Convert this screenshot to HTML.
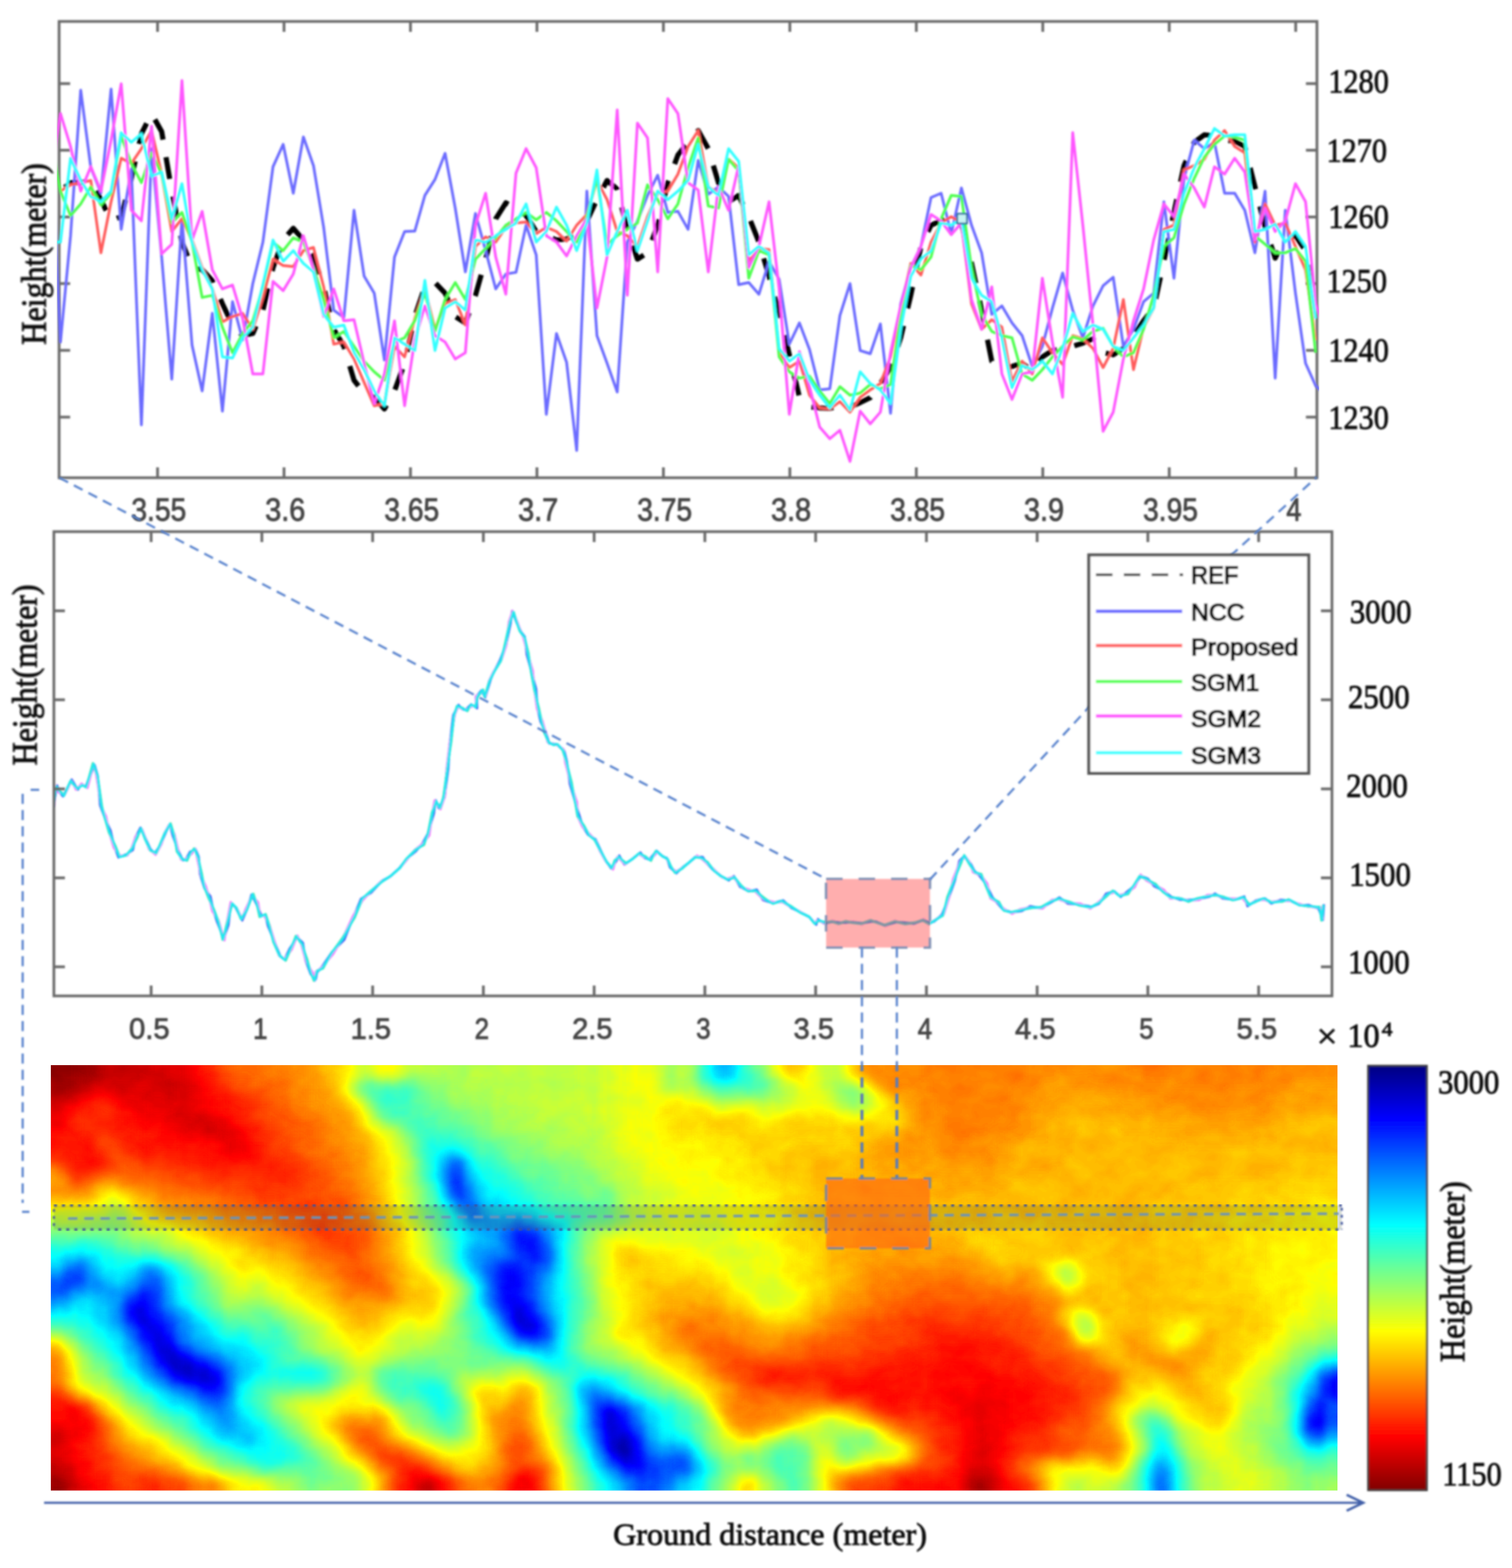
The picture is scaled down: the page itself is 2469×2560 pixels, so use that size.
<!DOCTYPE html>
<html lang="en"><head><meta charset="utf-8"><title>Height profile comparison</title>
<style>html,body{margin:0;padding:0;background:#fff;}body{width:2469px;height:2560px;overflow:hidden;}svg{display:block;}</style>
</head><body>
<svg width="2469" height="2560" viewBox="0 0 2469 2560">
<defs>
<filter id="soft" x="-5%" y="-5%" width="110%" height="110%"><feGaussianBlur stdDeviation="1.5"/></filter>
<filter id="soft2" x="-5%" y="-5%" width="110%" height="110%"><feGaussianBlur stdDeviation="1.35"/></filter>
<filter id="jet" filterUnits="userSpaceOnUse" x="0" y="1650" width="2469" height="880" color-interpolation-filters="sRGB"><feGaussianBlur stdDeviation="6" result="h"/><feTurbulence type="fractalNoise" baseFrequency="0.022 0.028" numOctaves="3" seed="11" result="n"/><feColorMatrix in="n" type="matrix" values="1 0 0 0 0  1 0 0 0 0  1 0 0 0 0  0 0 0 0 1" result="ng"/><feComposite in="h" in2="ng" operator="arithmetic" k1="0" k2="1" k3="0.044" k4="-0.022"/><feComponentTransfer><feFuncR type="table" tableValues="0.5 1 1 1 0.5 0 0 0 0"/><feFuncG type="table" tableValues="0 0 0.5 1 1 1 0.5 0 0"/><feFuncB type="table" tableValues="0 0 0 0 0.5 1 1 1 0.5"/><feFuncA type="linear" slope="100" intercept="0"/></feComponentTransfer></filter>
<linearGradient id="cbar" x1="0" y1="0" x2="0" y2="1">
<stop offset="0.0000" stop-color="#000080"/>
<stop offset="0.1250" stop-color="#0000ff"/>
<stop offset="0.2500" stop-color="#0080ff"/>
<stop offset="0.3750" stop-color="#00ffff"/>
<stop offset="0.5000" stop-color="#80ff80"/>
<stop offset="0.6250" stop-color="#ffff00"/>
<stop offset="0.7500" stop-color="#ff8000"/>
<stop offset="0.8750" stop-color="#ff0000"/>
<stop offset="1.0000" stop-color="#800000"/>
</linearGradient>
<clipPath id="ctop"><rect x="93.3" y="35.0" width="2060.4" height="745.0"/></clipPath>
<clipPath id="cmid"><rect x="88.0" y="868.0" width="2087.0" height="758.0"/></clipPath>
<clipPath id="cheat"><rect x="83.0" y="1739.0" width="2101.0" height="694.5"/></clipPath>
</defs>
<rect width="2469" height="2560" fill="#fff"/>
<g id="heatmap" clip-path="url(#cheat)">
<g filter="url(#jet)">
<g transform="translate(45.48,1708.00) scale(12.5060,12.4018)" fill="none" stroke-width="1.12">
<path stroke="#030303" d="M0 0h6M0 1h6M0 2h6M0 3h6M0 4h6"/>
<path stroke="#060606" d="M6 0h2M6 1h2M6 2h2M6 3h2M6 4h1M0 5h6M0 58h4M0 59h4M0 60h4M0 61h4"/>
<path stroke="#090909" d="M8 0h1M8 1h1M8 2h1M8 3h1M7 4h1M6 5h1M0 6h5M0 57h4M4 58h1M124 58h1M4 59h1M124 59h1M4 60h1M124 60h1M4 61h1M124 61h1"/>
<path stroke="#0c0c0c" d="M8 4h1M7 5h1M5 6h1M4 57h1M124 57h1M123 58h1M123 59h1M123 60h1M123 61h1"/>
<path stroke="#0f0f0f" d="M9 0h1M9 1h1M9 2h1M9 3h1M9 4h1M6 6h1M0 7h4M0 56h4M123 57h1M125 58h1M125 59h1M125 60h1M125 61h1"/>
<path stroke="#121212" d="M10 0h6M10 1h6M10 2h6M10 3h6M10 4h5M8 5h1M4 7h1M0 55h4M4 56h1M5 57h1M125 57h1M5 58h1M52 58h1M5 59h1M52 59h1M5 60h1M52 60h1M5 61h1M52 61h1"/>
<path stroke="#151515" d="M16 0h2M16 1h2M16 2h2M16 3h2M15 4h3M9 5h10M7 6h1M16 6h3M5 7h1M18 7h1M0 8h4M0 52h4M0 53h4M0 54h4M4 55h1M5 56h1M123 56h2M51 58h1M51 59h1M51 60h1M51 61h1"/>
<path stroke="#181818" d="M18 0h2M18 1h2M18 2h2M18 3h2M18 4h2M19 5h1M12 6h4M19 6h2M15 7h3M19 7h3M4 8h1M16 8h6M19 9h4M22 10h2M23 11h2M25 12h1M26 13h1M0 51h4M4 52h1M4 53h1M4 54h1M5 55h1M125 56h1M6 57h1M51 57h1M122 57h1M6 58h1M122 58h1M126 58h1M6 59h1M122 59h1M126 59h1M6 60h1M122 60h1M126 60h1M6 61h1M122 61h1M126 61h1"/>
<path stroke="#1b1b1b" d="M20 0h1M20 1h1M20 2h1M20 3h1M20 4h1M20 5h1M8 6h4M21 6h1M6 7h1M12 7h3M22 7h1M14 8h2M22 8h1M0 9h4M16 9h3M23 9h1M18 10h4M24 10h1M21 11h2M25 11h1M23 12h2M26 12h1M25 13h1M27 13h1M26 14h2M124 49h1M124 50h1M4 51h1M124 51h1M124 52h1M5 53h1M123 53h2M5 54h1M123 54h2M123 55h2M6 56h1M122 56h1M50 57h1M52 57h1M126 57h1M7 58h1M50 58h1M53 58h1M7 59h1M50 59h1M53 59h1M7 60h1M50 60h1M53 60h1M7 61h1M50 61h1M53 61h1"/>
<path stroke="#1e1e1e" d="M21 0h1M21 1h1M21 2h1M21 3h1M21 4h1M21 5h1M22 6h1M11 7h1M23 7h1M5 8h1M12 8h2M23 8h1M4 9h1M14 9h2M24 9h1M0 10h5M16 10h2M25 10h1M18 11h3M26 11h1M20 12h3M27 12h1M23 13h2M28 13h1M25 14h1M28 14h1M121 45h5M121 46h7M121 47h7M5 48h1M122 48h6M6 49h1M122 49h2M125 49h3M0 50h5M122 50h2M125 50h2M122 51h2M125 51h2M5 52h1M122 52h2M125 52h2M122 53h1M125 53h1M122 54h1M125 54h1M6 55h1M122 55h1M125 55h1M7 56h1M126 56h1M7 57h1M64 58h2M127 58h1M64 59h2M127 59h1M64 60h2M127 60h1M64 61h2M127 61h1"/>
<path stroke="#212121" d="M22 4h1M22 5h1M23 6h1M7 7h1M10 7h1M24 7h1M6 8h1M11 8h1M24 8h1M5 9h1M13 9h1M25 9h1M14 10h2M26 10h1M0 11h5M15 11h3M27 11h1M17 12h3M28 12h1M20 13h3M24 14h1M26 15h3M120 42h4M118 43h8M118 44h11M106 45h4M118 45h3M126 45h4M111 46h2M119 46h2M128 46h3M112 47h1M119 47h2M128 47h3M0 48h5M6 48h1M120 48h2M128 48h3M0 49h6M7 49h1M121 49h1M128 49h2M5 50h3M121 50h1M127 50h2M5 51h2M127 51h1M6 52h1M127 52h1M6 53h1M126 53h2M6 54h1M126 54h1M7 55h1M126 55h1M50 56h1M8 57h1M53 57h1M64 57h2M121 57h1M127 57h1M8 58h1M114 58h2M119 58h3M128 58h1M8 59h1M114 59h2M119 59h3M128 59h1M8 60h1M114 60h2M119 60h3M128 60h1M8 61h1M114 61h2M119 61h3M128 61h1"/>
<path stroke="#242424" d="M22 0h1M22 1h1M22 2h1M22 3h1M23 5h1M24 6h1M8 7h2M25 7h1M25 8h1M12 9h1M26 9h1M5 10h1M13 10h1M27 10h1M5 11h1M14 11h1M28 11h1M0 12h7M15 12h2M0 13h8M16 13h4M29 13h1M5 14h3M20 14h4M29 14h1M6 15h3M24 15h2M29 15h1M119 40h5M118 41h8M116 42h4M124 42h4M114 43h4M126 43h4M105 44h13M129 44h2M105 45h1M110 45h8M130 45h2M110 46h1M113 46h6M131 46h2M0 47h5M111 47h1M113 47h2M117 47h2M131 47h2M119 48h1M131 48h2M120 49h1M130 49h2M8 50h1M120 50h1M129 50h2M7 51h1M121 51h1M128 51h2M7 52h1M121 52h1M128 52h1M121 53h1M128 53h1M7 54h1M121 54h1M127 54h1M121 55h1M8 56h1M49 56h1M51 56h1M121 56h1M127 56h1M9 57h1M49 57h1M114 57h2M119 57h2M128 57h1M9 58h1M49 58h1M54 58h1M63 58h1M113 58h1M116 58h3M129 58h1M9 59h1M49 59h1M54 59h1M63 59h1M113 59h1M116 59h3M129 59h1M9 60h1M49 60h1M54 60h1M63 60h1M113 60h1M116 60h3M129 60h1M9 61h1M49 61h1M54 61h1M63 61h1M113 61h1M116 61h3M129 61h1"/>
<path stroke="#272727" d="M23 0h1M23 1h1M23 2h1M23 3h1M23 4h1M24 5h1M25 6h1M26 7h1M7 8h1M10 8h1M26 8h2M6 9h1M11 9h1M27 9h1M6 10h1M12 10h1M28 10h1M6 11h1M12 11h2M29 11h1M7 12h1M13 12h2M29 12h1M8 13h1M14 13h2M30 13h1M0 14h5M8 14h1M15 14h5M30 14h1M5 15h1M9 15h1M20 15h4M30 15h2M6 16h3M24 16h8M119 38h4M118 39h7M116 40h3M124 40h3M115 41h3M126 41h3M112 42h4M128 42h3M97 43h1M103 43h11M130 43h2M96 44h5M104 44h1M131 44h2M132 45h2M106 46h4M133 46h1M110 47h1M115 47h2M133 47h2M7 48h1M112 48h3M117 48h2M133 48h1M8 49h1M119 49h1M132 49h1M119 50h1M131 50h1M8 51h1M120 51h1M130 51h1M120 52h1M129 52h1M7 53h1M120 53h1M129 53h1M128 54h1M8 55h1M127 55h1M9 56h1M120 56h1M10 57h1M63 57h1M116 57h3M10 58h1M16 58h1M66 58h1M10 59h1M16 59h1M66 59h1M10 60h1M16 60h1M66 60h1M10 61h1M16 61h1M66 61h1"/>
<path stroke="#2a2a2a" d="M24 4h1M26 6h1M27 7h1M8 8h2M28 8h1M7 9h4M28 9h1M7 10h5M29 10h1M7 11h5M30 11h1M8 12h1M11 12h2M30 12h1M12 13h2M31 13h1M9 14h1M13 14h2M31 14h1M4 15h1M15 15h5M32 15h1M5 16h1M21 16h3M32 16h1M25 17h9M31 18h3M118 37h6M117 38h2M123 38h3M115 39h3M125 39h3M113 40h3M127 40h3M111 41h4M129 41h2M108 42h4M131 42h1M96 43h1M98 43h5M132 43h1M95 44h1M101 44h3M133 44h1M104 45h1M134 45h1M0 46h4M105 46h1M134 46h2M5 47h1M135 47h1M111 48h1M115 48h2M134 48h2M117 49h2M133 49h2M118 50h1M132 50h1M119 51h1M131 51h1M8 52h1M119 52h1M130 52h1M8 53h1M119 53h1M8 54h1M120 54h1M9 55h1M49 55h2M120 55h1M128 55h1M10 56h1M48 56h1M52 56h1M64 56h2M116 56h2M119 56h1M128 56h1M48 57h1M54 57h1M66 57h1M113 57h1M129 57h1M11 58h1M15 58h1M48 58h1M130 58h1M11 59h1M15 59h1M48 59h1M130 59h1M11 60h1M15 60h1M48 60h1M130 60h1M11 61h1M15 61h1M48 61h1M130 61h1"/>
<path stroke="#2e2e2e" d="M24 0h1M24 1h1M24 2h1M24 3h1M25 5h1M27 6h1M28 7h1M29 8h1M29 9h1M30 10h1M31 11h1M9 12h2M31 12h1M9 13h3M32 13h1M10 14h3M32 14h2M0 15h4M10 15h1M14 15h1M33 15h1M9 16h1M15 16h6M33 16h2M6 17h2M22 17h3M34 17h1M25 18h6M34 18h2M30 19h6M33 20h3M35 21h2M37 23h2M38 24h1M39 25h2M117 36h8M116 37h2M124 37h3M114 38h3M126 38h3M111 39h4M128 39h2M109 40h4M130 40h1M107 41h4M131 41h1M101 42h7M132 42h2M95 43h1M133 43h2M134 44h1M96 45h6M103 45h1M135 45h1M136 46h1M136 47h1M136 48h1M114 49h3M135 49h1M133 50h1M118 51h1M132 51h1M118 52h1M131 52h2M118 53h1M130 53h2M9 54h1M119 54h1M129 54h1M10 55h1M48 55h1M119 55h1M115 56h1M118 56h1M11 57h1M15 57h2M12 58h1M14 58h1M17 58h1M55 58h1M62 58h1M112 58h1M12 59h1M14 59h1M17 59h1M55 59h1M62 59h1M112 59h1M12 60h1M14 60h1M17 60h1M55 60h1M62 60h1M112 60h1M12 61h1M14 61h1M17 61h1M55 61h1M62 61h1M112 61h1"/>
<path stroke="#313131" d="M25 4h1M26 5h1M28 6h1M29 7h1M30 8h1M30 9h1M31 10h1M32 11h1M32 12h2M33 13h1M34 14h1M11 15h3M34 15h1M10 16h1M14 16h1M35 16h1M8 17h1M19 17h3M35 17h2M23 18h2M36 18h1M26 19h4M36 19h2M30 20h3M36 20h2M33 21h2M37 21h2M34 22h5M36 23h1M39 23h1M37 24h1M39 24h2M38 25h1M41 25h1M39 26h3M117 35h8M115 36h2M125 36h3M113 37h3M127 37h2M110 38h4M129 38h2M108 39h3M130 39h2M106 40h3M131 40h2M104 41h3M132 41h2M95 42h6M134 42h1M94 43h1M135 43h1M94 44h1M135 44h2M94 45h2M102 45h1M136 45h1M4 46h1M104 46h1M137 46h1M6 47h1M109 47h1M137 47h1M137 48h1M113 49h1M136 49h1M9 50h1M117 50h1M134 50h2M9 51h1M117 51h1M133 51h1M9 52h1M133 52h3M9 53h1M132 53h4M10 54h1M46 54h3M118 54h1M47 55h1M64 55h1M117 55h2M11 56h1M63 56h1M66 56h1M129 56h1M12 57h3M62 57h1M112 57h1M130 57h1M13 58h1M18 58h2M108 58h4M13 59h1M18 59h2M108 59h4M13 60h1M18 60h2M108 60h4M13 61h1M18 61h2M108 61h4"/>
<path stroke="#343434" d="M25 0h1M25 1h1M25 2h1M25 3h1M26 4h1M27 5h2M29 6h1M30 7h1M31 8h1M31 9h2M32 10h1M33 11h1M34 12h1M34 13h1M35 14h1M35 15h2M4 16h1M11 16h1M13 16h1M36 16h1M5 17h1M15 17h4M37 17h1M6 18h1M20 18h3M37 18h2M24 19h2M38 19h1M27 20h3M38 20h2M30 21h3M39 21h2M33 22h1M39 22h2M35 23h1M40 23h2M36 24h1M41 24h2M37 25h1M42 25h1M38 26h1M42 26h1M40 27h3M42 28h1M116 34h9M114 35h3M125 35h3M112 36h3M128 36h2M110 37h3M129 37h2M108 38h2M131 38h1M106 39h2M132 39h1M104 40h2M133 40h1M101 41h3M134 41h1M92 42h3M135 42h1M92 43h2M136 43h2M93 44h1M137 44h2M0 45h4M137 45h2M138 46h1M108 47h1M138 47h1M8 48h1M110 48h1M138 48h1M9 49h1M112 49h1M137 49h1M115 50h2M136 50h2M134 51h4M63 52h2M117 52h1M136 52h1M46 53h1M63 53h2M136 53h1M49 54h1M63 54h2M117 54h1M130 54h1M11 55h1M51 55h1M63 55h1M65 55h1M129 55h1M12 56h1M53 56h1M114 56h1M17 57h2M55 57h1M111 57h1M20 58h1M107 58h1M20 59h1M107 59h1M20 60h1M107 60h1M20 61h1M107 61h1"/>
<path stroke="#373737" d="M26 0h1M26 1h1M26 2h1M26 3h1M27 4h2M29 5h1M30 6h1M31 7h1M32 8h1M33 9h1M33 10h2M34 11h1M35 12h1M35 13h2M36 14h1M37 15h1M12 16h1M37 16h2M9 17h1M13 17h2M38 17h1M7 18h1M17 18h3M39 18h1M22 19h2M39 19h1M25 20h2M40 20h1M28 21h2M41 21h1M31 22h2M41 22h1M33 23h2M42 23h1M35 24h1M43 24h1M36 25h1M43 25h1M43 26h1M39 27h1M43 27h1M40 28h2M43 28h1M42 29h2M43 30h2M44 31h1M116 33h8M113 34h3M125 34h4M112 35h2M128 35h3M110 36h2M130 36h2M108 37h2M131 37h2M106 38h2M132 38h2M104 39h2M133 39h1M89 40h4M102 40h2M134 40h1M90 41h11M135 41h1M91 42h1M136 42h3M91 43h1M138 43h2M92 44h1M139 44h2M93 45h1M139 45h2M94 46h10M139 46h1M7 47h1M105 47h3M139 47h1M138 49h1M114 50h1M138 50h1M43 51h2M63 51h2M116 51h1M43 52h2M137 52h1M10 53h1M45 53h1M47 53h1M117 53h1M11 54h1M131 54h1M12 55h1M46 55h1M116 55h1M13 56h2M47 56h1M62 56h1M113 56h1M19 57h1M47 57h1M67 57h1M109 57h2M47 58h1M56 58h1M61 58h1M67 58h1M131 58h1M47 59h1M56 59h1M61 59h1M67 59h1M131 59h1M47 60h1M56 60h1M61 60h1M67 60h1M131 60h1M47 61h1M56 61h1M61 61h1M67 61h1M131 61h1"/>
<path stroke="#3a3a3a" d="M27 0h3M27 1h3M27 2h3M27 3h3M29 4h2M30 5h2M31 6h2M32 7h2M33 8h1M34 9h1M35 10h1M35 11h2M36 12h1M37 13h1M37 14h1M38 15h1M0 16h4M39 16h1M10 17h1M12 17h1M39 17h1M8 18h1M15 18h2M40 18h1M17 19h5M40 19h1M23 20h2M41 20h1M26 21h2M29 22h2M42 22h1M31 23h2M43 23h1M33 24h2M35 25h1M44 25h1M37 26h1M44 26h1M38 27h1M44 27h1M39 28h1M44 28h1M41 29h1M44 29h1M42 30h1M43 31h1M45 31h1M44 32h2M115 32h8M113 33h3M124 33h4M111 34h2M129 34h2M110 35h2M131 35h1M108 36h2M132 36h1M106 37h2M133 37h1M105 38h1M134 38h1M88 39h4M102 39h2M134 39h1M88 40h1M93 40h1M100 40h2M135 40h1M89 41h1M136 41h2M90 42h1M140 43h1M141 44h1M93 46h1M140 46h1M104 47h1M139 48h1M111 49h1M10 51h1M42 51h1M138 51h1M10 52h1M45 52h1M65 52h1M138 52h1M11 53h1M44 53h1M62 53h1M65 53h1M137 53h1M45 54h1M65 54h1M132 54h1M13 55h1M66 55h1M130 55h1M15 56h2M54 56h1M67 56h1M112 56h1M130 56h1M61 57h1M108 57h1"/>
<path stroke="#3d3d3d" d="M30 0h2M30 1h2M30 2h2M30 3h2M31 4h2M32 5h2M33 6h1M34 7h1M34 8h2M35 9h1M36 10h1M37 11h1M37 12h1M38 13h1M38 14h2M39 15h1M40 16h1M11 17h1M40 17h1M5 18h1M14 18h1M41 18h1M41 19h1M21 20h2M42 20h1M24 21h2M42 21h1M27 22h2M43 22h1M30 23h1M32 24h1M44 24h1M34 25h1M35 26h2M37 27h1M38 28h1M40 29h1M41 30h1M45 30h1M42 31h1M46 31h1M114 31h8M43 32h1M46 32h1M113 32h2M123 32h4M111 33h2M128 33h3M110 34h1M131 34h1M108 35h2M132 35h1M107 36h1M133 36h1M86 37h1M105 37h1M86 38h2M89 38h2M103 38h2M87 39h1M92 39h1M101 39h1M94 40h6M138 41h1M89 42h1M139 42h1M90 43h1M141 43h1M0 44h4M91 44h1M4 45h1M92 45h1M141 45h1M5 46h1M94 47h3M101 47h3M140 47h1M109 48h1M139 49h1M10 50h1M42 50h3M63 50h1M113 50h1M45 51h1M62 51h1M115 51h1M62 52h1M116 52h1M139 52h1M48 53h1M138 53h1M12 54h1M50 54h1M62 54h1M133 54h3M14 55h1M52 55h1M62 55h1M17 56h1M111 56h1M20 57h1M56 57h1M60 57h1M107 57h1M131 57h1M21 58h1M57 58h1M60 58h1M106 58h1M21 59h1M57 59h1M60 59h1M106 59h1M21 60h1M57 60h1M60 60h1M106 60h1M21 61h1M57 61h1M60 61h1M106 61h1"/>
<path stroke="#404040" d="M32 0h2M110 0h1M117 0h13M144 0h19M32 1h2M110 1h1M117 1h13M144 1h19M32 2h2M110 2h1M117 2h13M144 2h19M32 3h2M110 3h1M117 3h13M144 3h19M33 4h2M117 4h13M146 4h15M34 5h1M118 5h11M150 5h10M34 6h2M118 6h10M155 6h1M35 7h1M119 7h9M36 8h1M119 8h8M36 9h2M120 9h7M37 10h1M120 10h6M38 11h1M120 11h5M38 12h1M121 12h2M39 13h1M40 14h1M40 15h1M41 16h1M4 17h1M41 17h1M13 18h1M42 18h1M6 19h2M16 19h1M42 19h1M17 20h4M22 21h2M43 21h1M25 22h2M28 23h2M44 23h1M30 24h2M33 25h1M34 26h1M45 26h1M36 27h1M45 27h1M37 28h1M45 28h1M38 29h2M45 29h1M40 30h1M46 30h1M114 30h7M41 31h1M113 31h1M122 31h3M42 32h1M47 32h1M112 32h1M127 32h3M44 33h3M110 33h1M131 33h1M108 34h2M132 34h1M107 35h1M133 35h1M105 36h2M85 37h1M87 37h1M104 37h1M134 37h1M85 38h1M88 38h1M91 38h2M102 38h1M86 39h1M93 39h2M99 39h2M135 39h1M87 40h1M136 40h1M88 41h1M0 42h4M140 42h1M0 43h4M142 44h1M92 46h1M92 47h2M97 47h4M92 48h6M140 48h1M63 49h1M92 49h6M45 50h1M62 50h1M64 50h1M139 50h1M65 51h1M139 51h1M11 52h1M42 52h1M46 52h1M140 52h2M12 53h1M43 53h1M139 53h3M13 54h1M66 54h1M116 54h1M136 54h1M67 55h1M115 55h1M18 56h1M46 56h1M61 56h1M22 58h2M58 58h2M22 59h2M58 59h2M22 60h2M58 60h2M22 61h2M58 61h2"/>
<path stroke="#434343" d="M34 0h2M109 0h1M111 0h6M130 0h14M163 0h11M34 1h2M109 1h1M111 1h6M130 1h14M163 1h11M34 2h2M109 2h1M111 2h6M130 2h14M163 2h11M34 3h2M109 3h1M111 3h6M130 3h14M163 3h11M35 4h1M111 4h6M130 4h4M139 4h7M161 4h13M35 5h1M112 5h2M115 5h3M129 5h3M142 5h8M160 5h5M36 6h1M116 6h2M128 6h3M145 6h10M156 6h7M36 7h1M117 7h2M128 7h3M149 7h12M37 8h1M117 8h2M127 8h3M152 8h7M38 9h1M117 9h3M127 9h2M38 10h1M117 10h3M126 10h3M39 11h1M117 11h3M125 11h3M39 12h2M117 12h4M123 12h4M40 13h1M118 13h8M41 14h1M119 14h6M41 15h1M42 16h1M42 17h1M9 18h1M12 18h1M5 19h1M15 19h1M43 19h1M43 20h1M21 21h1M24 22h1M44 22h1M26 23h2M29 24h1M45 24h1M31 25h2M45 25h1M33 26h1M35 27h1M36 28h1M37 29h1M46 29h1M112 29h9M39 30h1M111 30h3M121 30h3M40 31h1M47 31h1M111 31h2M125 31h5M41 32h1M110 32h2M130 32h2M42 33h2M47 33h1M108 33h2M132 33h1M107 34h1M133 34h1M106 35h1M85 36h5M104 36h1M84 37h1M88 37h4M103 37h1M84 38h1M93 38h1M101 38h1M135 38h1M85 39h1M95 39h4M86 40h1M137 40h1M0 41h4M139 41h1M89 43h1M142 43h1M4 44h1M90 44h1M91 45h1M141 46h1M8 47h1M9 48h1M63 48h2M98 48h2M108 48h1M10 49h1M62 49h1M64 49h1M98 49h1M110 49h1M140 49h1M41 50h1M61 50h1M93 50h2M112 50h1M140 50h1M11 51h1M61 51h1M114 51h1M140 51h2M49 53h1M116 53h1M44 54h1M51 54h1M141 54h1M15 55h1M45 55h1M53 55h1M131 55h1M55 56h1M110 56h1M131 56h1M21 57h1M57 57h3M106 57h1M24 58h1M24 59h1M24 60h1M24 61h1"/>
<path stroke="#464646" d="M36 0h1M36 1h1M36 2h1M36 3h1M36 4h1M110 4h1M134 4h5M36 5h1M111 5h1M114 5h1M132 5h10M165 5h9M37 6h1M113 6h3M131 6h3M140 6h5M163 6h4M37 7h2M115 7h2M131 7h2M143 7h6M161 7h3M38 8h2M116 8h1M130 8h2M146 8h6M159 8h3M39 9h2M116 9h1M129 9h2M150 9h11M39 10h3M116 10h1M129 10h2M154 10h3M40 11h2M116 11h1M128 11h3M41 12h1M115 12h2M127 12h3M41 13h2M115 13h3M126 13h2M42 14h2M115 14h4M125 14h3M42 15h2M117 15h9M43 16h1M119 16h5M0 17h4M43 17h1M4 18h1M11 18h1M43 18h1M0 19h5M8 19h1M14 19h1M16 20h1M44 20h1M18 21h3M44 21h1M22 22h2M25 23h1M45 23h1M27 24h2M30 25h1M32 26h1M46 26h1M34 27h1M46 27h1M114 27h4M35 28h1M46 28h1M111 28h10M47 29h1M110 29h2M121 29h3M38 30h1M47 30h1M109 30h2M124 30h3M129 30h1M39 31h1M109 31h2M130 31h2M40 32h1M108 32h2M132 32h1M41 33h1M107 33h1M133 33h1M43 34h3M86 34h1M106 34h1M84 35h6M105 35h1M84 36h1M90 36h2M103 36h1M134 36h1M92 37h2M102 37h1M94 38h2M99 38h2M84 39h1M144 39h1M138 40h1M144 40h2M87 41h1M146 41h1M88 42h1M141 42h1M148 42h3M4 43h1M142 45h1M6 46h1M91 46h1M64 47h1M91 47h1M141 47h1M91 48h1M100 48h1M45 49h1M61 49h1M46 50h1M65 50h1M92 50h1M95 50h1M41 51h1M46 51h1M12 52h1M47 52h1M61 52h1M142 52h1M13 53h1M42 53h1M61 53h1M66 53h1M142 53h1M14 54h1M137 54h1M140 54h1M16 55h1M61 55h1M19 56h1M60 56h1M46 57h1M46 58h1M46 59h1M46 60h1M46 61h1"/>
<path stroke="#494949" d="M37 0h1M37 1h1M37 2h1M37 3h1M37 4h1M37 5h1M38 6h1M112 6h1M134 6h6M167 6h7M39 7h1M114 7h1M133 7h3M138 7h5M164 7h10M40 8h1M115 8h1M132 8h2M141 8h5M162 8h4M41 9h1M115 9h1M131 9h3M144 9h6M161 9h3M115 10h1M131 10h2M147 10h7M157 10h5M42 11h1M115 11h1M131 11h2M151 11h9M42 12h1M114 12h1M130 12h3M43 13h1M111 13h4M128 13h1M111 14h4M128 14h1M110 15h7M126 15h3M111 16h2M115 16h4M124 16h4M117 17h9M0 18h4M10 18h1M44 18h1M120 18h3M44 19h1M15 20h1M17 21h1M21 22h1M45 22h1M24 23h1M26 24h1M28 25h2M46 25h1M31 26h1M111 26h8M33 27h1M110 27h4M118 27h3M34 28h1M47 28h1M109 28h2M121 28h2M36 29h1M108 29h2M124 29h1M37 30h1M48 30h1M108 30h1M127 30h2M130 30h2M38 31h1M48 31h1M107 31h2M132 31h1M39 32h1M48 32h1M107 32h1M133 32h1M48 33h1M106 33h1M134 33h1M42 34h1M46 34h2M84 34h2M87 34h2M105 34h1M134 34h1M43 35h2M83 35h1M90 35h1M104 35h1M134 35h1M83 36h1M92 36h1M102 36h1M83 37h1M94 37h1M101 37h1M83 38h1M96 38h3M144 38h1M136 39h1M145 39h1M0 40h4M85 40h1M139 40h1M146 40h1M4 41h1M86 41h1M140 41h1M144 41h2M147 41h6M4 42h1M142 42h1M146 42h2M151 42h1M143 43h1M149 43h2M63 47h1M62 48h1M101 48h2M107 48h1M141 48h1M42 49h3M91 49h1M99 49h1M11 50h1M96 50h1M141 50h1M113 51h1M66 52h1M115 52h1M15 54h1M61 54h1M67 54h1M138 54h2M17 55h1M114 55h1M132 55h1M56 56h1M59 56h1M68 56h1M109 56h1M22 57h2M68 57h1M68 58h1M105 58h1M132 58h1M68 59h1M105 59h1M132 59h1M68 60h1M105 60h1M132 60h1M68 61h1M105 61h1M132 61h1"/>
<path stroke="#4c4c4c" d="M108 0h1M108 1h1M108 2h1M108 3h1M38 4h1M109 4h1M38 5h1M39 6h1M40 7h1M113 7h1M136 7h2M41 8h1M114 8h1M134 8h7M166 8h8M134 9h10M164 9h10M42 10h1M133 10h4M140 10h7M162 10h5M114 11h1M133 11h4M143 11h8M160 11h4M43 12h1M112 12h2M133 12h3M147 12h16M110 13h1M129 13h7M151 13h9M44 14h1M109 14h2M129 14h7M44 15h1M109 15h1M129 15h6M44 16h1M108 16h3M113 16h2M128 16h5M44 17h1M108 17h9M126 17h4M108 18h12M123 18h5M13 19h1M109 19h17M0 20h8M45 20h1M119 20h3M16 21h1M45 21h1M19 22h2M23 23h1M46 23h1M25 24h1M46 24h1M109 24h10M27 25h1M108 25h13M29 26h2M47 26h1M108 26h3M119 26h3M32 27h1M47 27h1M107 27h3M121 27h2M33 28h1M107 28h2M123 28h1M35 29h1M48 29h1M107 29h1M125 29h1M129 29h2M36 30h1M106 30h2M37 31h1M106 31h1M106 32h1M40 33h1M83 33h6M105 33h1M41 34h1M83 34h1M89 34h2M42 35h1M45 35h1M82 35h1M91 35h2M103 35h1M43 36h1M82 36h1M93 36h1M95 37h1M100 37h1M135 37h1M143 38h1M145 38h1M83 39h1M143 39h1M146 39h1M84 40h1M143 40h1M147 40h1M152 40h2M143 41h1M153 41h1M87 42h1M143 42h3M152 42h1M88 43h1M148 43h1M151 43h1M89 44h1M143 44h1M149 44h3M5 45h1M90 45h1M151 45h2M64 46h2M90 46h1M142 46h1M65 47h1M61 48h1M65 48h1M103 48h4M41 49h1M60 49h1M65 49h1M109 49h1M141 49h1M60 50h1M97 50h1M111 50h1M12 51h1M60 51h1M66 51h1M93 51h2M142 51h1M13 52h1M41 52h1M48 52h1M14 53h1M50 53h1M43 54h1M52 54h1M142 54h1M18 55h1M54 55h1M60 55h1M20 56h1M45 56h1M105 57h1M132 57h1M25 58h1M25 59h1M25 60h1M25 61h1"/>
<path stroke="#4f4f4f" d="M38 0h1M38 1h1M38 2h1M38 3h1M39 5h1M110 5h1M111 6h1M42 9h1M114 9h1M114 10h1M137 10h3M167 10h7M113 11h1M137 11h6M164 11h10M110 12h2M136 12h11M163 12h11M44 13h1M108 13h2M136 13h15M160 13h14M106 14h3M136 14h38M103 15h6M135 15h30M103 16h5M133 16h30M103 17h5M130 17h31M45 18h1M103 18h5M128 18h25M9 19h1M12 19h1M45 19h1M103 19h6M126 19h23M14 20h1M104 20h15M122 20h26M104 21h43M18 22h1M46 22h1M105 22h20M130 22h16M21 23h2M105 23h19M133 23h13M24 24h1M105 24h4M119 24h3M139 24h7M26 25h1M47 25h1M105 25h3M121 25h1M141 25h5M28 26h1M105 26h3M122 26h1M142 26h5M31 27h1M105 27h2M123 27h1M135 27h1M142 27h5M32 28h1M48 28h1M105 28h2M124 28h1M143 28h4M34 29h1M105 29h2M126 29h3M131 29h1M143 29h4M35 30h1M49 30h1M105 30h1M143 30h4M49 31h1M105 31h1M143 31h4M38 32h1M49 32h1M83 32h5M105 32h1M138 32h1M143 32h4M39 33h1M49 33h1M82 33h1M89 33h1M144 33h2M40 34h1M48 34h1M81 34h2M91 34h1M104 34h1M135 34h1M144 34h2M46 35h1M81 35h1M102 35h1M140 35h1M144 35h2M44 36h1M94 36h1M101 36h1M141 36h1M143 36h3M82 37h1M96 37h4M142 37h4M82 38h1M142 38h1M146 38h1M154 38h1M147 39h1M153 39h2M83 40h1M140 40h1M148 40h1M151 40h1M154 40h1M85 41h1M141 41h2M154 41h1M153 42h1M144 43h4M152 43h1M152 44h1M150 45h1M153 45h1M7 46h1M63 46h1M151 46h2M62 47h1M90 47h1M142 47h1M60 48h1M40 49h1M46 49h1M100 49h1M40 50h1M47 51h1M60 52h1M16 54h1M115 54h1M44 55h1M55 55h1M68 55h1M111 55h3M141 55h1M57 56h2M108 56h1M132 56h1M24 57h1"/>
<path stroke="#525252" d="M39 0h1M99 0h1M39 1h1M99 1h1M39 2h1M99 2h1M39 3h1M99 3h1M39 4h1M40 6h1M112 7h1M113 8h1M43 11h1M110 11h3M44 12h1M108 12h2M100 13h8M45 14h1M99 14h7M45 15h1M99 15h4M165 15h9M45 16h1M99 16h4M163 16h11M45 17h1M99 17h4M161 17h13M100 18h3M153 18h12M101 19h2M149 19h14M8 20h1M46 20h1M101 20h3M148 20h13M15 21h1M46 21h1M102 21h2M147 21h10M17 22h1M102 22h3M125 22h5M146 22h7M20 23h1M103 23h2M124 23h9M146 23h6M23 24h1M47 24h1M103 24h2M122 24h17M146 24h6M25 25h1M103 25h2M122 25h1M127 25h14M146 25h6M27 26h1M104 26h1M128 26h14M147 26h6M29 27h2M48 27h1M104 27h1M124 27h1M130 27h5M136 27h6M147 27h6M31 28h1M104 28h1M125 28h1M128 28h5M139 28h4M147 28h6M33 29h1M49 29h1M104 29h1M139 29h4M147 29h7M104 30h1M132 30h1M139 30h4M147 30h6M36 31h1M81 31h6M104 31h1M133 31h1M138 31h2M141 31h2M147 31h6M37 32h1M50 32h2M81 32h2M88 32h2M104 32h1M134 32h1M139 32h1M141 32h2M147 32h5M38 33h1M50 33h2M80 33h2M90 33h1M104 33h1M135 33h1M137 33h3M141 33h3M146 33h5M49 34h1M51 34h1M80 34h1M92 34h1M103 34h1M139 34h5M146 34h11M41 35h1M80 35h1M93 35h1M135 35h1M141 35h3M146 35h12M42 36h1M45 36h1M81 36h1M95 36h1M100 36h1M135 36h1M140 36h1M142 36h1M146 36h2M154 36h4M43 37h1M81 37h1M141 37h1M146 37h1M154 37h4M141 38h1M147 38h1M153 38h1M155 38h3M82 39h1M142 39h1M152 39h1M155 39h2M4 40h1M141 40h2M150 40h1M155 40h2M84 41h1M155 41h1M86 42h1M154 42h2M87 43h1M153 43h2M88 44h1M144 44h2M148 44h1M153 44h2M64 45h1M89 45h1M143 45h1M149 45h1M154 45h1M150 46h1M153 46h2M9 47h1M60 47h2M152 47h2M10 48h1M90 48h1M154 48h1M11 49h1M108 49h1M66 50h1M91 50h1M98 50h1M95 51h1M112 51h1M49 52h1M15 53h1M60 53h1M67 53h1M115 53h1M17 54h1M60 54h1M19 55h1M59 55h1M133 55h1M135 55h1M140 55h1M142 55h1M107 56h1"/>
<path stroke="#555555" d="M40 0h1M100 0h1M40 1h1M100 1h1M40 2h1M100 2h1M40 3h1M100 3h1M108 4h1M41 7h1M42 8h1M113 9h1M43 10h1M89 10h5M112 10h2M90 11h5M100 11h5M107 11h3M93 12h15M45 13h1M94 13h6M95 14h4M96 15h3M97 16h2M97 17h2M98 18h2M165 18h9M10 19h2M46 19h1M99 19h2M163 19h11M13 20h1M99 20h2M161 20h4M14 21h1M100 21h2M157 21h6M16 22h1M47 22h1M100 22h2M153 22h7M19 23h1M47 23h1M101 23h2M152 23h5M22 24h1M101 24h2M152 24h4M24 25h1M48 25h1M102 25h1M123 25h1M125 25h2M152 25h5M26 26h1M48 26h1M102 26h2M123 26h1M126 26h2M153 26h4M28 27h1M102 27h2M125 27h1M127 27h3M153 27h4M30 28h1M49 28h1M78 28h2M103 28h1M126 28h2M133 28h1M138 28h1M153 28h5M32 29h1M78 29h2M103 29h1M132 29h1M138 29h1M154 29h4M34 30h1M50 30h1M79 30h7M103 30h1M138 30h1M153 30h4M35 31h1M50 31h2M80 31h1M87 31h2M140 31h1M153 31h4M36 32h1M52 32h1M80 32h1M90 32h1M137 32h1M140 32h1M152 32h5M37 33h1M52 33h1M79 33h1M91 33h1M103 33h1M136 33h1M140 33h1M151 33h9M39 34h1M50 34h1M52 34h1M79 34h1M93 34h1M102 34h1M136 34h1M138 34h1M157 34h3M40 35h1M47 35h1M51 35h1M94 35h1M101 35h1M139 35h1M158 35h3M41 36h1M80 36h1M96 36h1M99 36h1M148 36h2M152 36h2M158 36h3M42 37h1M44 37h1M80 37h1M140 37h1M147 37h1M153 37h1M158 37h3M81 38h1M136 38h1M158 38h2M137 39h1M139 39h3M148 39h1M157 39h2M82 40h1M149 40h1M157 40h1M83 41h1M156 41h2M85 42h1M156 42h1M5 43h1M155 43h2M5 44h1M146 44h2M155 44h1M65 45h1M155 45h1M59 46h2M89 46h1M143 46h1M155 46h1M59 47h1M151 47h1M154 47h2M45 48h1M142 48h1M153 48h1M155 48h1M66 49h1M101 49h1M154 49h2M12 50h1M47 50h1M142 50h1M13 51h1M40 51h1M92 51h1M14 52h1M114 52h1M143 52h1M16 53h1M41 53h1M51 53h1M18 54h1M42 54h1M53 54h1M68 54h1M56 55h1M110 55h1M134 55h1M136 55h2M21 56h1M106 56h1M45 57h1M26 58h1M26 59h1M26 60h1M26 61h1"/>
<path stroke="#585858" d="M107 0h1M107 1h1M107 2h1M107 3h1M40 4h1M40 5h1M84 8h1M84 9h5M103 9h1M85 10h4M94 10h1M99 10h6M109 10h3M85 11h2M89 11h1M95 11h5M105 11h2M90 12h3M92 13h2M46 14h1M93 14h2M46 15h1M94 15h2M46 16h1M94 16h3M46 17h1M95 17h2M46 18h1M96 18h2M97 19h2M98 20h1M165 20h9M0 21h5M6 21h1M47 21h1M98 21h2M163 21h5M99 22h1M160 22h5M18 23h1M99 23h2M157 23h6M21 24h1M48 24h1M100 24h1M156 24h5M23 25h1M100 25h2M124 25h1M157 25h2M25 26h1M101 26h1M124 26h2M157 26h2M27 27h1M49 27h1M77 27h3M101 27h1M126 27h1M157 27h2M28 28h2M77 28h1M80 28h1M101 28h2M134 28h1M137 28h1M158 28h1M31 29h1M77 29h1M80 29h5M102 29h1M158 29h2M33 30h1M78 30h1M86 30h3M102 30h1M157 30h3M34 31h1M79 31h1M89 31h1M102 31h2M157 31h3M35 32h1M79 32h1M91 32h1M103 32h1M157 32h4M36 33h1M78 33h1M92 33h1M102 33h1M160 33h2M38 34h1M137 34h1M160 34h2M39 35h1M48 35h1M50 35h1M52 35h1M79 35h1M161 35h1M46 36h1M79 36h1M97 36h2M150 36h2M161 36h1M41 37h1M45 37h1M79 37h1M148 37h1M161 37h1M42 38h3M80 38h1M140 38h1M160 38h1M81 39h1M138 39h1M151 39h1M159 39h1M158 40h2M158 41h1M5 42h1M84 42h1M157 42h1M86 43h1M87 44h1M156 44h1M63 45h1M88 45h1M144 45h3M148 45h1M156 45h1M8 46h1M61 46h2M66 46h1M149 46h1M156 46h1M66 47h1M143 47h1M150 47h1M156 47h1M41 48h4M59 48h1M66 48h1M152 48h1M156 48h1M39 49h1M59 49h1M142 49h1M153 49h1M39 50h1M59 50h1M99 50h1M110 50h1M154 50h2M48 51h1M59 51h1M67 52h1M143 53h1M54 54h1M57 55h2M138 55h2M105 56h1M25 57h1M69 57h1M104 57h1M45 58h1M69 58h1M93 58h2M104 58h1M133 58h1M45 59h1M69 59h1M93 59h2M104 59h1M133 59h1M45 60h1M69 60h1M93 60h2M104 60h1M133 60h1M45 61h1M69 61h1M93 61h2M104 61h1M133 61h1"/>
<path stroke="#5b5b5b" d="M41 0h1M98 0h1M101 0h1M41 1h1M98 1h1M101 1h1M41 2h1M98 2h1M101 2h1M41 3h1M98 3h1M101 3h1M99 4h2M111 7h1M83 8h1M85 8h1M112 8h1M43 9h1M83 9h1M89 9h5M100 9h3M104 9h1M112 9h1M84 10h1M95 10h1M98 10h1M105 10h4M44 11h1M84 11h1M87 11h2M45 12h1M85 12h2M88 12h2M46 13h1M88 13h4M88 14h5M91 15h3M91 16h3M93 17h2M94 18h2M95 19h2M9 20h1M47 20h1M96 20h2M5 21h1M7 21h1M96 21h2M168 21h6M15 22h1M97 22h2M165 22h9M17 23h1M48 23h1M98 23h1M163 23h5M20 24h1M98 24h2M161 24h4M99 25h1M159 25h4M24 26h1M49 26h1M99 26h2M159 26h3M26 27h1M80 27h1M100 27h1M159 27h3M27 28h1M81 28h3M100 28h1M135 28h2M159 28h3M27 29h4M50 29h1M85 29h3M100 29h2M160 29h2M32 30h1M51 30h1M77 30h1M89 30h1M101 30h1M133 30h1M160 30h2M33 31h1M52 31h1M78 31h1M90 31h1M101 31h1M160 31h3M53 32h1M78 32h1M102 32h1M161 32h3M53 33h1M93 33h1M162 33h2M37 34h1M53 34h1M78 34h1M94 34h1M101 34h1M162 34h2M49 35h1M78 35h1M95 35h1M100 35h1M162 35h2M40 36h1M47 36h1M51 36h2M78 36h1M162 36h1M78 37h1M152 37h1M162 37h1M78 38h2M148 38h1M152 38h1M161 38h1M0 39h4M43 39h2M80 39h1M160 39h1M81 40h1M5 41h1M82 41h1M159 41h1M158 42h1M157 43h1M6 45h1M147 45h1M144 46h1M89 47h1M40 48h1M151 48h1M102 49h1M107 49h1M152 49h1M156 49h1M153 50h1M14 51h1M67 51h1M96 51h1M143 51h1M15 52h1M40 52h1M50 52h1M59 52h1M113 52h1M17 53h1M52 53h1M59 53h1M55 54h5M143 54h1M20 55h1M43 55h1M22 56h1M44 56h1M69 56h1M133 56h1M141 56h1M133 57h1M27 58h1M27 59h1M27 60h1M27 61h1"/>
<path stroke="#5e5e5e" d="M46 0h2M46 1h2M46 2h2M46 3h2M41 4h1M101 4h1M109 5h1M41 6h1M110 6h1M82 8h1M86 8h2M102 8h2M82 9h1M94 9h1M99 9h1M105 9h1M111 9h1M82 10h2M96 10h2M82 11h2M82 12h3M87 12h1M83 13h5M84 14h4M85 15h6M86 16h5M89 17h4M47 18h1M91 18h3M47 19h1M92 19h3M12 20h1M93 20h3M8 21h1M13 21h1M94 21h2M14 22h1M48 22h1M95 22h2M16 23h1M96 23h2M168 23h6M19 24h1M96 24h2M165 24h9M22 25h1M49 25h1M97 25h2M163 25h11M77 26h2M98 26h1M162 26h12M25 27h1M76 27h1M81 27h2M98 27h2M162 27h12M26 28h1M50 28h1M76 28h1M84 28h4M99 28h1M162 28h12M76 29h1M88 29h2M99 29h1M133 29h1M137 29h1M162 29h7M28 30h1M31 30h1M90 30h1M99 30h2M162 30h6M32 31h1M77 31h1M91 31h1M100 31h1M134 31h1M137 31h1M163 31h4M34 32h1M77 32h1M92 32h1M100 32h2M135 32h2M164 32h3M35 33h1M77 33h1M101 33h1M164 33h2M36 34h1M77 34h1M164 34h2M38 35h1M53 35h1M96 35h4M136 35h1M164 35h1M39 36h1M139 36h1M163 36h1M40 37h1M46 37h1M77 37h1M149 37h1M163 37h1M41 38h1M45 38h1M77 38h1M162 38h1M42 39h1M79 39h1M149 39h2M161 39h1M43 40h2M160 40h1M83 42h1M85 43h1M158 43h1M64 44h1M86 44h1M157 44h1M59 45h2M66 45h1M87 45h1M58 46h1M145 46h1M148 46h1M10 47h1M144 47h1M11 48h1M38 48h2M46 48h1M143 48h1M12 49h1M38 49h1M47 49h1M90 49h1M13 50h1M67 50h1M100 50h1M156 50h1M39 51h1M91 51h1M97 51h1M111 51h1M154 51h2M16 52h1M93 52h2M68 53h1M19 54h1M41 54h1M114 54h1M69 55h1M109 55h1M23 56h1M104 56h1M142 56h1M26 57h1M28 58h2M28 59h2M28 60h2M28 61h2"/>
<path stroke="#616161" d="M42 0h1M42 1h1M42 2h1M42 3h1M107 4h1M41 5h1M81 5h1M101 5h1M81 6h1M42 7h1M81 7h4M102 7h2M43 8h1M81 8h1M88 8h1M100 8h2M104 8h1M111 8h1M80 9h2M95 9h1M97 9h2M106 9h1M110 9h1M80 10h2M80 11h2M46 12h1M80 12h2M81 13h2M47 14h1M81 14h3M47 15h1M82 15h3M47 16h1M83 16h3M47 17h1M84 17h5M85 18h6M87 19h5M10 20h2M90 20h3M48 21h1M91 21h3M92 22h3M15 23h1M93 23h3M18 24h1M49 24h1M94 24h2M21 25h1M95 25h2M23 26h1M76 26h1M79 26h4M96 26h2M24 27h1M50 27h1M83 27h4M96 27h2M88 28h1M96 28h3M26 29h1M51 29h1M90 29h1M96 29h3M169 29h5M27 30h1M29 30h2M52 30h1M76 30h1M91 30h1M98 30h1M137 30h1M168 30h6M53 31h1M76 31h1M92 31h1M99 31h1M167 31h7M33 32h1M93 32h1M167 32h7M34 33h1M94 33h1M166 33h8M95 34h1M100 34h1M166 34h2M37 35h1M77 35h1M138 35h1M165 35h2M48 36h3M77 36h1M164 36h1M47 37h1M136 37h1M150 37h2M164 37h1M46 38h1M139 38h1M149 38h1M151 38h1M163 38h1M45 39h1M78 39h1M162 39h1M80 40h1M161 40h1M81 41h1M160 41h1M159 42h1M84 43h1M63 44h1M158 44h1M7 45h1M61 45h2M157 45h1M9 46h1M42 46h2M88 46h1M146 46h2M157 46h1M41 47h4M149 47h1M157 47h1M36 48h2M150 48h1M157 48h1M67 49h1M103 49h1M106 49h1M151 49h1M38 50h1M101 50h1M109 50h1M92 52h1M112 52h1M18 53h1M58 53h1M114 53h1M104 55h1M143 55h1M134 56h1M140 56h1M93 57h2"/>
<path stroke="#646464" d="M45 0h1M48 0h1M79 0h3M102 0h1M45 1h1M48 1h1M79 1h3M102 1h1M45 2h1M48 2h1M79 2h3M102 2h1M45 3h1M48 3h1M79 3h3M102 3h1M79 4h3M98 4h1M102 4h1M79 5h2M100 5h1M102 5h1M78 6h3M101 6h2M78 7h3M85 7h1M101 7h1M78 8h3M89 8h1M99 8h1M78 9h2M96 9h1M107 9h3M44 10h1M78 10h2M45 11h1M78 11h2M79 12h1M47 13h1M79 13h2M80 14h1M81 15h1M81 16h2M82 17h2M83 18h2M48 19h1M84 19h3M48 20h1M85 20h5M9 21h1M85 21h6M89 22h3M49 23h1M91 23h2M17 24h1M92 24h2M20 25h1M80 25h3M93 25h2M22 26h1M50 26h1M83 26h3M93 26h3M87 27h2M94 27h2M25 28h1M51 28h1M89 28h1M95 28h1M95 29h1M95 30h3M28 31h1M31 31h1M98 31h1M32 32h1M54 32h1M76 32h1M99 32h1M54 33h1M76 33h1M100 33h1M35 34h1M76 34h1M168 34h6M137 35h1M167 35h2M38 36h1M53 36h1M136 36h1M165 36h2M39 37h1M51 37h2M76 37h1M139 37h1M165 37h1M40 38h1M76 38h1M150 38h1M164 38h1M4 39h1M41 39h1M46 39h1M77 39h1M163 39h1M5 40h1M42 40h1M45 40h1M79 40h1M162 40h1M43 41h2M161 41h1M82 42h1M160 42h1M159 43h1M6 44h1M65 44h1M85 44h1M43 45h1M58 45h1M41 46h1M39 47h2M45 47h1M58 47h1M89 48h1M37 49h1M104 49h2M143 49h1M157 49h1M14 50h1M48 50h1M90 50h1M108 50h1M143 50h1M152 50h1M15 51h1M49 51h1M153 51h1M156 51h1M17 52h1M51 52h1M58 52h1M68 52h1M95 52h1M154 52h2M40 53h1M53 53h1M57 53h1M155 53h1M20 54h1M104 54h1M111 54h3M21 55h1M42 55h1M105 55h1M108 55h1M135 56h5M27 57h1M44 57h1M134 57h1M30 58h1M134 58h1M30 59h1M134 59h1M30 60h1M134 60h1M30 61h1M134 61h1"/>
<path stroke="#676767" d="M77 0h2M97 0h1M106 0h1M77 1h2M97 1h1M106 1h1M77 2h2M97 2h1M106 2h1M77 3h2M97 3h1M106 3h1M42 4h1M77 4h2M77 5h2M77 6h1M82 6h1M103 6h1M77 7h1M86 7h2M100 7h1M104 7h1M110 7h1M77 8h1M90 8h5M97 8h2M105 8h1M110 8h1M77 9h1M77 10h1M77 11h1M47 12h1M77 12h2M78 13h1M78 14h2M79 15h2M80 16h1M48 17h1M81 17h1M48 18h1M81 18h2M82 19h2M83 20h2M83 21h2M0 22h9M13 22h1M49 22h1M83 22h6M14 23h1M84 23h7M16 24h1M81 24h4M89 24h3M19 25h1M50 25h1M78 25h2M83 25h4M90 25h3M21 26h1M75 26h1M86 26h4M91 26h2M23 27h1M51 27h1M75 27h1M89 27h2M92 27h2M24 28h1M75 28h1M90 28h5M25 29h1M75 29h1M91 29h4M134 29h1M26 30h1M75 30h1M92 30h3M27 31h1M29 31h2M75 31h1M93 31h5M31 32h1M94 32h1M98 32h1M33 33h1M95 33h1M99 33h1M34 34h1M54 34h1M96 34h4M36 35h1M76 35h1M169 35h5M37 36h1M76 36h1M167 36h1M48 37h3M166 37h1M39 38h1M47 38h1M78 40h1M42 41h1M45 41h1M80 41h1M162 41h1M6 42h1M6 43h1M83 43h1M62 44h1M159 44h1M8 45h1M42 45h1M86 45h1M158 45h1M40 46h1M44 46h1M158 46h1M36 47h3M67 47h1M145 47h1M148 47h1M158 47h1M35 48h1M58 48h1M67 48h1M144 48h1M149 48h1M13 49h1M58 49h1M150 49h1M58 50h1M102 50h1M151 50h1M157 50h1M38 51h1M58 51h1M98 51h1M39 52h1M144 52h1M153 52h1M156 52h1M19 53h1M54 53h3M103 53h1M144 53h1M154 53h1M156 53h1M69 54h1M103 54h1M110 54h1M155 54h2M103 55h1M156 55h2M24 56h1M103 56h1M157 56h1M28 57h1M70 57h1M103 57h1M157 57h2M44 58h1M70 58h1M92 58h1M95 58h1M103 58h1M158 58h2M44 59h1M70 59h1M92 59h1M95 59h1M103 59h1M158 59h2M44 60h1M70 60h1M92 60h1M95 60h1M103 60h1M158 60h2M44 61h1M70 61h1M92 61h1M95 61h1M103 61h1M158 61h2"/>
<path stroke="#6a6a6a" d="M43 0h2M75 0h2M82 0h1M103 0h1M43 1h2M75 1h2M82 1h1M103 1h1M43 2h2M75 2h2M82 2h1M103 2h1M43 3h2M75 3h2M82 3h1M103 3h1M46 4h2M75 4h2M82 4h1M103 4h1M75 5h2M82 5h1M99 5h1M103 5h1M108 5h1M75 6h2M100 6h1M75 7h2M75 8h2M95 8h2M44 9h1M75 9h2M75 10h2M76 11h1M76 12h1M77 13h1M48 14h1M77 14h1M48 15h1M78 15h1M48 16h1M79 16h1M80 17h1M80 18h1M81 19h1M81 20h2M10 21h1M12 21h1M49 21h1M81 21h2M81 22h2M81 23h3M15 24h1M50 24h1M80 24h1M85 24h4M76 25h2M87 25h3M90 26h1M22 27h1M91 27h1M52 29h1M136 29h1M53 30h1M134 30h1M54 31h1M136 31h1M28 32h1M55 32h1M75 32h1M95 32h3M32 33h1M75 33h1M96 33h3M35 35h1M54 35h1M168 36h6M38 37h1M53 37h1M167 37h1M48 38h1M51 38h1M137 38h1M165 38h1M40 39h1M47 39h1M76 39h1M164 39h1M41 40h1M46 40h1M163 40h1M79 41h1M43 42h2M81 42h1M161 42h1M63 43h2M160 43h1M59 44h2M84 44h1M159 45h1M10 46h1M67 46h1M87 46h1M159 46h1M11 47h1M35 47h1M88 47h1M146 47h2M12 48h1M158 48h1M36 49h1M37 50h1M68 50h1M107 50h1M16 51h1M50 51h1M68 51h1M90 51h1M152 51h1M157 51h1M18 52h1M91 52h1M111 52h1M157 52h1M104 53h1M113 53h1M153 53h1M157 53h1M109 54h1M154 54h1M157 54h1M22 55h1M106 55h2M155 55h1M158 55h1M43 56h1M70 56h1M156 56h1M158 56h2M29 57h1M135 57h1M139 57h3M156 57h1M159 57h1M31 58h1M135 58h1M157 58h1M160 58h1M31 59h1M135 59h1M157 59h1M160 59h1M31 60h1M135 60h1M157 60h1M160 60h1M31 61h1M135 61h1M157 61h1M160 61h1"/>
<path stroke="#6d6d6d" d="M49 0h1M72 0h3M104 0h1M49 1h1M72 1h3M104 1h1M49 2h1M72 2h3M104 2h1M49 3h1M72 3h3M104 3h1M72 4h3M106 4h1M72 5h3M42 6h1M72 6h3M83 6h1M85 6h2M104 6h1M109 6h1M72 7h3M88 7h1M99 7h1M73 8h2M106 8h1M109 8h1M73 9h2M73 10h2M46 11h1M74 11h2M75 12h1M48 13h1M75 13h2M76 14h1M77 15h1M78 16h1M78 17h2M79 18h1M49 19h1M80 19h1M49 20h1M80 20h1M11 21h1M80 21h1M9 22h1M80 22h1M13 23h1M50 23h1M80 23h1M79 24h1M18 25h1M75 25h1M20 26h1M51 26h1M74 27h1M23 28h1M52 28h1M135 29h1M25 30h1M26 31h1M135 31h1M27 32h1M29 32h2M55 33h1M33 34h1M75 34h1M36 36h1M138 36h1M37 37h1M75 37h1M168 37h1M38 38h1M49 38h2M52 38h1M75 38h1M138 38h1M166 38h1M39 39h1M165 39h1M47 40h1M77 40h1M164 40h1M6 41h1M78 41h1M163 41h1M80 42h1M162 42h1M82 43h1M161 43h1M7 44h1M43 44h1M58 44h1M61 44h1M66 44h1M160 44h1M9 45h1M41 45h1M44 45h1M57 45h1M67 45h1M85 45h1M160 45h1M39 46h1M57 46h1M159 47h1M47 48h1M48 49h1M68 49h1M158 49h1M15 50h1M103 50h1M101 51h2M110 51h1M144 51h1M52 52h1M57 52h1M96 52h1M103 52h1M152 52h1M69 53h1M92 53h1M111 53h2M152 53h1M158 53h1M21 54h1M40 54h1M144 54h1M153 54h1M158 54h1M41 55h1M154 55h1M159 55h1M143 56h1M155 56h1M160 56h1M30 57h1M92 57h1M95 57h1M136 57h3M142 57h1M160 57h1M138 58h3M156 58h1M161 58h1M138 59h3M156 59h1M161 59h1M138 60h3M156 60h1M161 60h1M138 61h3M156 61h1M161 61h1"/>
<path stroke="#707070" d="M50 0h1M58 0h14M105 0h1M50 1h1M58 1h14M105 1h1M50 2h1M58 2h14M105 2h1M50 3h1M58 3h14M105 3h1M45 4h1M48 4h1M58 4h14M97 4h1M104 4h1M42 5h1M60 5h12M104 5h1M61 6h11M84 6h1M99 6h1M43 7h1M63 7h9M98 7h1M105 7h1M64 8h9M67 9h6M45 10h1M69 10h4M71 11h3M73 12h2M74 13h1M75 14h1M76 15h1M49 16h1M76 16h2M49 17h1M77 17h1M49 18h1M78 18h1M78 19h2M79 20h1M79 21h1M50 22h1M79 22h1M0 23h9M79 23h1M14 24h1M78 24h1M16 25h2M51 25h1M19 26h1M74 26h1M21 27h1M52 27h1M74 28h1M24 29h1M74 29h1M74 30h1M136 30h1M74 31h1M26 32h1M27 33h1M31 33h1M55 34h1M34 35h1M75 35h1M54 36h1M75 36h1M137 36h1M169 37h5M167 38h1M38 39h1M48 39h1M51 39h1M75 39h1M40 40h1M41 41h1M46 41h1M42 42h1M43 43h1M62 43h1M42 44h1M83 44h1M45 46h1M86 46h1M160 46h1M34 47h1M46 47h1M160 47h1M13 48h1M34 48h1M148 48h1M159 48h1M14 49h1M35 49h1M89 49h1M36 50h1M49 50h1M106 50h1M150 50h1M158 50h1M17 51h1M37 51h1M51 51h1M99 51h2M103 51h1M151 51h1M158 51h1M38 52h1M90 52h1M102 52h1M104 52h1M158 52h1M20 53h1M39 53h1M91 53h1M93 53h1M159 53h1M105 54h1M159 54h1M70 55h1M160 55h1M25 56h1M42 56h1M154 56h1M161 56h1M43 57h1M155 57h1M161 57h1M32 58h1M71 58h1M136 58h2M141 58h1M155 58h1M162 58h1M32 59h1M71 59h1M136 59h2M141 59h1M155 59h1M162 59h1M32 60h1M71 60h1M136 60h2M141 60h1M155 60h1M162 60h1M32 61h1M71 61h1M136 61h2M141 61h1M155 61h1M162 61h1"/>
<path stroke="#737373" d="M51 0h7M85 0h1M51 1h7M85 1h1M51 2h7M85 2h1M51 3h7M85 3h1M43 4h1M55 4h3M85 4h1M105 4h1M57 5h3M83 5h1M85 5h2M98 5h1M58 6h3M87 6h1M60 7h3M89 7h1M97 7h1M109 7h1M44 8h1M61 8h3M107 8h2M63 9h4M65 10h4M47 11h1M67 11h4M48 12h1M69 12h4M72 13h2M73 14h2M49 15h1M74 15h2M75 16h1M76 17h1M77 18h1M78 20h1M50 21h1M78 21h1M10 22h1M12 22h1M13 24h1M51 24h1M77 24h1M15 25h1M74 25h1M18 26h1M22 28h1M53 29h1M54 30h1M25 31h1M55 31h1M74 32h1M26 33h1M28 33h3M74 33h1M32 34h1M35 36h1M36 37h1M54 37h1M74 37h1M137 37h1M0 38h4M37 38h1M53 38h1M74 38h1M168 38h1M5 39h1M49 39h2M52 39h1M74 39h1M166 39h1M39 40h1M48 40h1M76 40h1M165 40h1M77 41h1M164 41h1M45 42h1M79 42h1M163 42h1M7 43h1M44 43h1M65 43h1M81 43h1M162 43h1M8 44h1M44 44h1M57 44h1M161 44h1M10 45h1M40 45h1M84 45h1M161 45h1M11 46h1M38 46h1M161 46h1M12 47h1M57 47h1M161 47h1M68 48h1M145 48h1M160 48h1M144 49h1M149 49h1M159 49h1M104 50h2M144 50h1M104 51h1M159 51h1M19 52h1M53 52h1M56 52h1M69 52h1M97 52h1M151 52h1M159 52h1M94 53h1M102 53h1M110 53h1M160 53h1M108 54h1M152 54h1M160 54h1M23 55h1M153 55h1M161 55h1M26 56h1M93 56h2M162 56h1M31 57h1M71 57h1M154 57h1M162 57h1M33 58h1M43 58h1M91 58h1M96 58h1M154 58h1M163 58h1M33 59h1M43 59h1M91 59h1M96 59h1M154 59h1M163 59h1M33 60h1M43 60h1M91 60h1M96 60h1M154 60h1M163 60h1M33 61h1M43 61h1M91 61h1M96 61h1M154 61h1M163 61h1"/>
<path stroke="#767676" d="M83 0h1M86 0h1M96 0h1M83 1h1M86 1h1M96 1h1M83 2h1M86 2h1M96 2h1M83 3h1M86 3h1M96 3h1M44 4h1M49 4h6M83 4h1M86 4h1M55 5h2M84 5h1M107 5h1M57 6h1M98 6h1M105 6h1M58 7h2M90 7h7M59 8h2M61 9h2M62 10h3M64 11h3M66 12h3M68 13h4M49 14h1M71 14h2M73 15h1M74 16h1M75 17h1M76 18h1M77 19h1M50 20h1M11 22h1M78 22h1M9 23h1M12 23h1M51 23h1M78 23h1M76 24h1M14 25h1M17 26h1M52 26h1M20 27h1M73 27h1M53 28h1M73 28h1M23 29h1M24 30h1M135 30h1M25 32h1M56 32h1M56 33h1M31 34h1M74 34h1M33 35h1M55 35h1M74 36h1M138 37h1M54 38h1M169 38h5M37 39h1M53 39h1M167 39h1M6 40h1M38 40h1M49 40h1M51 40h2M75 40h1M40 41h1M47 41h1M7 42h1M41 42h1M42 43h1M59 43h3M9 44h1M67 44h1M82 44h1M35 46h3M68 46h1M33 47h1M68 47h1M87 47h1M88 48h1M147 48h1M161 48h1M15 49h1M160 49h2M16 50h1M57 50h1M89 50h1M159 50h1M18 51h1M57 51h1M69 51h1M89 51h1M108 51h2M150 51h1M37 52h1M54 52h2M110 52h1M145 52h1M160 52h1M38 53h1M95 53h1M105 53h1M145 53h1M151 53h1M39 54h1M70 54h1M102 54h1M161 54h1M40 55h1M102 55h1M144 55h1M162 55h1M27 56h1M41 56h1M102 56h1M153 56h1M163 56h1M32 57h1M102 57h1M143 57h1M153 57h1M163 57h1M34 58h1M102 58h1M142 58h1M153 58h1M164 58h1M170 58h4M34 59h1M102 59h1M142 59h1M153 59h1M164 59h1M170 59h4M34 60h1M102 60h1M142 60h1M153 60h1M164 60h1M170 60h4M34 61h1M102 61h1M142 61h1M153 61h1M164 61h1M170 61h4"/>
<path stroke="#797979" d="M84 0h1M84 1h1M84 2h1M84 3h1M84 4h1M52 5h3M105 5h2M55 6h2M56 7h2M106 7h1M58 8h1M59 9h2M61 10h1M62 11h2M64 12h2M49 13h1M66 13h2M68 14h3M70 15h3M73 16h1M74 17h1M50 18h1M75 18h1M50 19h1M77 20h1M51 22h1M10 23h2M0 24h5M6 24h2M12 24h1M75 24h1M13 25h1M52 25h1M16 26h1M73 26h1M19 27h1M21 28h1M73 29h1M73 30h1M24 31h1M25 33h1M26 34h5M74 35h1M34 36h1M55 36h1M35 37h1M4 38h1M36 38h1M73 38h1M54 39h1M73 39h1M168 39h1M50 40h1M53 40h1M74 40h1M166 40h1M7 41h1M48 41h1M76 41h1M46 42h1M63 42h2M78 42h1M164 42h1M8 43h1M57 43h2M80 43h1M163 43h1M41 44h1M56 44h1M162 44h1M56 45h1M68 45h1M83 45h1M162 45h1M34 46h1M85 46h1M162 46h1M162 47h1M14 48h1M33 48h1M48 48h1M57 48h1M146 48h1M162 48h1M34 49h1M49 49h1M57 49h1M162 49h1M35 50h1M50 50h1M69 50h1M160 50h3M36 51h1M52 51h1M105 51h1M107 51h1M160 51h1M89 52h1M101 52h1M105 52h1M21 53h1M90 53h1M109 53h1M161 53h1M22 54h1M91 54h2M106 54h2M162 54h1M24 55h1M152 55h1M28 56h1M71 56h1M92 56h1M95 56h1M33 57h1M42 57h1M91 57h1M96 57h1M164 57h1M169 57h5M165 58h1M169 58h1M165 59h1M169 59h1M165 60h1M169 60h1M165 61h1M169 61h1"/>
<path stroke="#7c7c7c" d="M96 4h1M51 5h1M87 5h1M97 5h1M53 6h2M88 6h1M97 6h1M108 6h1M55 7h1M108 7h1M56 8h2M45 9h1M58 9h1M46 10h1M59 10h2M48 11h1M61 11h1M62 12h2M64 13h2M66 14h2M50 15h1M68 15h2M50 16h1M70 16h3M50 17h1M72 17h2M74 18h1M76 19h1M51 21h1M77 21h1M77 22h1M77 23h1M5 24h1M8 24h2M11 24h1M52 24h1M74 24h1M12 25h1M73 25h1M15 26h1M18 27h1M53 27h1M22 29h1M54 29h1M23 30h1M73 31h1M24 32h1M73 32h1M25 34h1M56 34h1M32 35h1M55 37h1M73 37h1M55 38h1M36 39h1M55 39h1M169 39h1M37 40h1M54 40h1M73 40h1M167 40h1M39 41h1M49 41h5M75 41h1M165 41h1M62 42h1M9 43h1M41 43h1M56 43h1M66 43h1M79 43h1M10 44h1M81 44h1M11 45h1M39 45h1M45 45h1M12 46h1M33 46h1M46 46h1M56 46h1M13 47h1M32 47h1M47 47h1M86 47h1M69 48h1M69 49h1M163 49h1M17 50h1M51 50h1M149 50h1M106 51h1M145 51h1M161 51h2M20 52h1M98 52h1M150 52h1M161 52h1M37 53h1M70 53h1M96 53h1M108 53h1M162 53h1M38 54h1M151 54h1M39 55h1M92 55h1M163 55h1M40 56h1M152 56h1M164 56h1M34 57h1M40 57h2M152 57h1M165 57h2M168 57h1M35 58h1M38 58h3M42 58h1M97 58h1M143 58h1M152 58h1M166 58h1M168 58h1M35 59h1M38 59h3M42 59h1M97 59h1M143 59h1M152 59h1M166 59h1M168 59h1M35 60h1M38 60h3M42 60h1M97 60h1M143 60h1M152 60h1M166 60h1M168 60h1M35 61h1M38 61h3M42 61h1M97 61h1M143 61h1M152 61h1M166 61h1M168 61h1"/>
<path stroke="#808080" d="M43 5h1M43 6h1M52 6h1M106 6h1M44 7h1M53 7h2M107 7h1M55 8h1M57 9h1M58 10h1M60 11h1M49 12h1M61 12h1M63 13h1M64 14h2M66 15h2M68 16h2M70 17h2M72 18h2M73 19h3M51 20h1M76 20h1M52 23h1M76 23h1M10 24h1M73 24h1M14 26h1M53 26h1M72 26h1M17 27h1M72 27h1M55 30h1M56 31h1M24 33h1M73 33h1M73 34h1M26 35h6M73 35h1M73 36h1M34 37h1M35 38h1M6 39h1M72 39h1M170 39h4M36 40h1M55 40h1M54 41h3M74 41h1M166 41h1M8 42h1M40 42h1M47 42h1M54 42h8M77 42h1M45 43h1M164 43h1M68 44h1M163 44h1M82 45h1M163 45h1M32 46h1M69 46h1M84 46h1M163 46h1M69 47h1M163 47h1M32 48h1M49 48h1M87 48h1M163 48h1M16 49h1M33 49h1M50 49h1M88 49h1M145 49h1M148 49h1M34 50h1M52 50h1M163 50h1M19 51h1M35 51h1M53 51h1M56 51h1M88 51h1M163 51h1M36 52h1M88 52h1M100 52h1M106 52h4M162 52h1M89 53h1M23 54h1M90 54h1M93 54h1M95 54h1M145 54h1M163 54h1M71 55h1M91 55h1M93 55h1M95 55h1M164 55h1M29 56h1M39 56h1M91 56h1M96 56h1M144 56h1M165 56h1M169 56h5M35 57h1M38 57h2M72 57h1M97 57h1M167 57h1M36 58h2M41 58h1M72 58h1M90 58h1M167 58h1M36 59h2M41 59h1M72 59h1M90 59h1M167 59h1M36 60h2M41 60h1M72 60h1M90 60h1M167 60h1M36 61h2M41 61h1M72 61h1M90 61h1M167 61h1"/>
<path stroke="#838383" d="M95 0h1M95 1h1M95 2h1M95 3h1M87 4h1M46 5h2M50 5h1M89 6h1M96 6h1M107 6h1M52 7h1M45 8h1M54 8h1M55 9h2M57 10h1M59 11h1M60 12h1M62 13h1M50 14h1M63 14h1M64 15h2M66 16h2M68 17h2M70 18h2M51 19h1M72 19h1M73 20h3M76 21h1M52 22h1M76 22h1M74 23h2M11 25h1M53 25h1M72 25h1M13 26h1M20 28h1M54 28h1M72 28h1M72 29h1M72 30h1M23 31h1M56 35h1M33 36h1M56 37h1M5 38h1M56 38h1M72 38h1M35 39h1M56 39h1M7 40h1M56 40h1M72 40h1M168 40h1M8 41h1M38 41h1M57 41h2M73 41h1M48 42h6M65 42h1M165 42h1M55 43h1M40 44h1M45 44h1M55 44h1M80 44h1M69 45h1M14 47h1M49 47h1M56 47h1M85 47h1M15 48h1M50 48h1M51 49h1M18 50h1M88 50h1M145 50h1M21 52h1M70 52h1M99 52h1M163 52h1M22 53h1M97 53h1M101 53h1M106 53h2M150 53h1M163 53h1M37 54h1M94 54h1M164 54h1M25 55h1M38 55h1M94 55h1M151 55h1M165 55h1M38 56h1M166 56h3M36 57h2M90 57h1M98 58h1M98 59h1M98 60h1M98 61h1"/>
<path stroke="#868686" d="M87 0h1M87 1h1M87 2h1M87 3h1M95 4h1M44 5h2M48 5h2M96 5h1M51 6h1M92 6h1M95 6h1M53 8h1M54 9h1M47 10h1M56 10h1M49 11h1M58 11h1M59 12h1M61 13h1M62 14h1M63 15h1M65 16h1M66 17h2M51 18h1M68 18h2M69 19h3M52 21h1M74 21h2M74 22h2M73 23h1M53 24h1M0 25h11M12 26h1M16 27h1M54 27h1M19 28h1M21 29h1M22 30h1M72 31h1M23 32h1M57 32h1M57 33h1M24 34h1M25 35h1M28 36h3M32 36h1M56 36h1M72 37h1M34 38h1M57 39h1M35 40h1M57 40h1M169 40h1M37 41h1M59 41h2M167 41h1M9 42h1M39 42h1M76 42h1M10 43h1M40 43h1M54 43h1M67 43h1M78 43h1M11 44h1M164 44h1M12 45h1M38 45h1M55 45h1M81 45h1M13 46h1M31 46h1M83 46h1M31 47h1M48 47h1M50 47h1M86 48h1M56 50h1M20 51h1M34 51h1M54 51h2M70 51h1M149 51h1M35 52h1M36 53h1M88 53h1M164 53h1M24 54h1M71 54h1M96 54h1M101 54h1M26 55h2M90 55h1M96 55h1M101 55h1M166 55h1M170 55h4M30 56h5M37 56h1M72 56h1M90 56h1M97 56h1M101 56h1M151 56h1M98 57h1M101 57h1M144 57h1M101 58h1M144 58h1M151 58h1M101 59h1M144 59h1M151 59h1M101 60h1M144 60h1M151 60h1M101 61h1M144 61h1M151 61h1"/>
<path stroke="#898989" d="M88 5h1M90 6h2M93 6h2M51 7h1M52 8h1M46 9h1M52 9h2M48 10h1M54 10h2M57 11h1M50 12h1M58 12h1M50 13h1M60 13h1M61 14h1M51 16h1M64 16h1M51 17h1M65 17h1M66 18h2M68 19h1M52 20h1M69 20h4M72 21h2M73 22h1M53 23h1M72 24h1M11 26h1M54 26h1M14 27h2M22 31h1M72 32h1M23 33h1M72 33h1M72 34h1M72 35h1M26 36h2M31 36h1M72 36h1M0 37h4M33 37h1M57 38h1M34 39h1M58 40h1M170 40h4M35 41h2M61 41h2M72 41h1M74 42h2M166 42h1M46 43h1M50 43h4M165 43h1M69 44h1M79 44h1M32 45h6M46 45h1M164 45h1M47 46h1M82 46h1M164 46h1M70 47h1M164 47h1M31 48h1M51 48h1M56 48h1M70 48h1M164 48h1M17 49h1M32 49h1M52 49h1M56 49h1M70 49h1M87 49h1M146 49h2M164 49h1M19 50h1M33 50h1M53 50h1M70 50h1M87 50h1M87 51h1M164 51h1M146 52h1M164 52h1M98 53h1M100 53h1M36 54h1M89 54h1M165 54h1M37 55h1M167 55h3M35 56h2M151 57h1M89 58h1M89 59h1M89 60h1M89 61h1"/>
<path stroke="#8c8c8c" d="M94 0h1M94 1h1M94 2h1M94 3h1M95 5h1M44 6h1M50 6h1M45 7h1M46 8h1M51 8h1M50 9h2M49 10h5M50 11h7M57 12h1M59 13h1M51 15h1M62 15h1M63 16h1M64 17h1M65 18h1M52 19h1M67 19h1M68 20h1M71 21h1M53 22h1M72 22h1M72 23h1M54 25h1M71 26h1M13 27h1M71 27h1M18 28h1M71 28h1M55 29h1M71 29h1M21 30h1M22 32h1M57 34h1M24 35h1M4 37h1M29 37h2M57 37h1M6 38h1M33 38h1M71 38h1M7 39h1M58 39h1M71 39h1M8 40h1M34 40h1M59 40h1M71 40h1M9 41h1M34 41h1M63 41h1M168 41h1M10 42h1M66 42h1M73 42h1M47 43h3M68 43h1M77 43h1M39 44h1M46 44h1M54 44h1M31 45h1M80 45h1M48 46h2M55 46h1M70 46h1M15 47h1M30 47h1M84 47h1M16 48h1M85 48h1M86 49h1M54 50h2M148 50h1M164 50h1M21 51h1M146 51h1M22 52h1M149 52h1M23 53h1M71 53h1M99 53h1M146 53h1M25 54h1M97 54h1M100 54h1M150 54h1M28 55h1M36 55h1M72 55h1M97 55h1M100 55h1M145 55h1M98 56h1M100 56h1M89 57h1M99 57h2M73 58h1M99 58h2M73 59h1M99 59h2M73 60h1M99 60h2M73 61h1M99 61h2"/>
<path stroke="#8f8f8f" d="M94 4h1M94 5h1M45 6h1M50 7h1M47 8h4M47 9h3M51 12h1M56 12h1M58 13h1M51 14h1M59 14h2M61 15h1M62 16h1M63 17h1M66 19h1M67 20h1M53 21h1M68 21h3M71 22h1M71 25h1M10 26h1M12 27h1M20 29h1M56 30h1M71 30h1M57 31h1M23 34h1M57 35h1M25 36h1M57 36h1M5 37h1M27 37h2M31 37h2M71 37h1M33 39h1M33 40h1M60 40h1M33 41h1M64 41h1M38 42h1M11 43h1M39 43h1M69 43h1M12 44h1M47 44h3M78 44h1M165 44h1M13 45h1M47 45h3M70 45h1M14 46h1M30 46h1M50 46h1M81 46h1M51 47h1M52 48h1M18 49h1M31 49h1M53 49h1M20 50h1M32 50h1M86 50h1M146 50h1M33 51h1M34 52h1M87 52h1M35 53h1M165 53h1M26 54h1M99 54h1M166 54h1M169 54h5M35 55h1M99 55h1M99 56h1M73 57h1"/>
<path stroke="#929292" d="M93 5h1M46 6h4M46 7h4M52 12h4M51 13h1M57 13h1M58 14h1M60 15h1M61 16h1M62 17h1M52 18h1M64 18h1M65 19h1M66 20h1M54 23h1M71 23h1M54 24h1M71 24h1M0 26h6M9 26h1M11 27h1M55 27h1M17 28h1M55 28h1M21 31h1M71 31h1M71 32h1M22 33h1M71 33h1M71 34h1M71 35h1M71 36h1M26 37h1M58 37h1M7 38h1M30 38h3M58 38h1M8 39h1M32 39h1M59 39h1M9 40h1M32 40h1M10 41h1M71 41h1M34 42h4M72 42h1M167 42h1M76 43h1M166 43h1M50 44h4M70 44h1M30 45h1M50 45h1M79 45h1M55 47h1M83 47h1M17 48h1M30 48h1M55 49h1M85 49h1M71 52h1M165 52h1M24 53h1M35 54h1M72 54h1M88 54h1M98 54h1M29 55h1M34 55h1M89 55h1M98 55h1M150 55h1M89 56h1"/>
<path stroke="#959595" d="M88 4h1M93 4h1M89 5h1M92 5h1M56 13h1M59 15h1M52 16h1M52 17h1M63 18h1M64 19h1M53 20h1M67 21h1M54 22h1M70 22h1M6 26h3M55 26h1M19 29h1M20 30h1M21 32h1M22 34h1M23 35h1M24 36h1M58 36h1M6 37h1M25 37h1M29 38h1M31 39h1M31 40h1M61 40h1M32 41h1M65 41h1M169 41h1M11 42h1M33 42h1M67 42h1M71 42h1M70 43h1M75 43h1M32 44h2M38 44h1M77 44h1M54 45h1M165 45h1M15 46h1M29 46h1M80 46h1M16 47h1M29 47h1M82 47h1M55 48h1M84 48h1M19 49h1M54 49h1M85 50h1M147 50h1M22 51h1M71 51h1M86 51h1M148 51h1M23 52h1M33 52h1M25 53h1M34 53h1M149 53h1M27 54h1M146 54h1M167 54h2M30 55h4M73 56h1M145 56h1M145 57h1M150 57h1M88 58h1M145 58h1M150 58h1M88 59h1M145 59h1M150 59h1M88 60h1M145 60h1M150 60h1M88 61h1M145 61h1M150 61h1"/>
<path stroke="#989898" d="M88 0h1M93 0h1M88 1h1M93 1h1M88 2h1M93 2h1M88 3h1M93 3h1M90 5h2M52 13h2M55 13h1M52 15h1M58 15h1M59 16h2M61 17h1M62 18h1M63 19h1M64 20h2M69 22h1M55 25h1M70 26h1M10 27h1M70 27h1M11 28h4M16 28h1M70 28h1M70 29h1M21 33h1M58 35h1M0 36h5M70 37h1M8 38h1M26 38h3M59 38h1M70 38h1M9 39h1M30 39h1M60 39h1M70 39h1M10 40h1M70 40h1M70 41h1M170 41h4M68 42h3M12 43h1M38 43h1M71 43h4M13 44h1M31 44h1M34 44h4M14 45h1M29 45h1M51 45h1M78 45h1M51 46h1M165 46h1M52 47h1M165 47h1M18 48h1M29 48h1M53 48h2M71 48h1M165 48h1M20 49h1M30 49h1M71 49h1M84 49h1M21 50h1M31 50h1M71 50h1M32 51h1M147 51h1M87 53h1M166 53h1M170 53h4M28 54h1M34 54h1M150 56h1M74 58h1M74 59h1M74 60h1M74 61h1"/>
<path stroke="#9b9b9b" d="M54 13h1M52 14h1M57 14h1M60 17h1M61 18h1M53 19h1M66 21h1M68 22h1M55 24h1M70 25h1M0 27h4M9 27h1M10 28h1M15 28h1M56 29h1M70 30h1M20 31h1M70 31h1M20 32h1M58 32h1M58 33h1M58 34h1M22 35h1M70 35h1M5 36h1M23 36h1M59 36h1M70 36h1M7 37h1M24 37h1M59 37h1M25 38h1M29 39h1M30 40h1M62 40h1M11 41h1M31 41h1M32 42h1M32 43h6M30 44h1M71 44h1M166 44h1M52 45h2M28 46h1M54 46h1M17 47h1M28 47h1M54 47h1M71 47h1M81 47h1M83 48h1M84 50h1M23 51h1M85 51h1M165 51h1M24 52h1M32 52h1M147 52h2M26 53h1M33 53h1M72 53h1M29 54h5M73 55h1M74 57h1M88 57h1"/>
<path stroke="#9e9e9e" d="M58 16h1M59 17h1M60 18h1M61 19h2M63 20h1M54 21h1M64 21h2M67 22h1M55 23h1M70 23h1M70 24h1M4 27h1M10 29h2M18 29h1M57 30h1M70 32h1M20 33h1M70 33h1M21 34h1M70 34h1M6 36h1M8 37h1M9 38h1M60 38h1M10 39h1M61 39h1M66 41h1M12 42h1M31 42h1M168 42h1M13 43h1M31 43h1M76 44h1M77 45h1M16 46h1M52 46h1M79 46h1M53 47h1M19 48h1M28 48h1M82 48h1M21 49h1M29 49h1M83 49h1M165 49h1M22 50h1M165 50h1M86 52h1M32 53h1M169 53h1M149 54h1M88 55h1M75 58h1M75 59h1M75 60h1M75 61h1"/>
<path stroke="#a1a1a1" d="M89 4h1M92 4h1M53 14h1M53 18h1M60 19h1M62 20h1M63 21h1M56 25h1M56 26h1M5 27h1M8 27h1M56 27h1M0 28h4M9 28h1M56 28h1M12 29h1M19 30h1M6 35h1M59 35h1M7 36h1M24 38h1M25 39h4M11 40h1M29 40h1M63 40h1M30 41h1M69 41h1M30 43h1M167 43h1M14 44h1M29 44h1M75 44h1M15 45h1M28 45h1M71 45h1M53 46h1M71 46h1M20 48h1M82 49h1M30 50h1M83 50h1M31 51h1M84 51h1M72 52h1M27 53h1M30 53h2M147 53h1M146 55h1M74 56h1M88 56h1M87 58h1M87 59h1M87 60h1M87 61h1"/>
<path stroke="#a4a4a4" d="M54 14h1M56 14h1M53 15h1M59 18h1M60 20h2M55 22h1M66 22h1M69 23h1M56 24h1M6 27h2M13 29h1M58 31h1M69 31h1M69 32h1M69 33h1M7 34h1M20 34h1M4 35h2M7 35h1M21 35h1M8 36h1M22 36h1M9 37h1M23 37h1M60 37h1M10 38h1M11 39h1M69 40h1M12 41h1M67 41h2M30 42h1M29 43h1M72 44h1M74 44h1M166 45h1M18 47h1M80 47h1M81 48h1M23 50h1M82 50h1M83 51h1M25 52h1M31 52h1M28 53h2M148 53h1M167 53h1M73 54h1M87 54h1M149 55h1M75 57h1"/>
<path stroke="#a7a7a7" d="M89 0h1M92 0h1M89 1h1M92 1h1M89 2h1M92 2h1M89 3h1M92 3h1M57 15h1M53 16h1M53 17h1M58 17h1M59 19h1M62 21h1M68 23h1M69 25h1M69 26h1M4 28h1M9 29h1M17 29h1M10 30h3M69 30h1M19 31h1M19 32h1M19 33h1M6 34h1M8 34h1M69 34h1M0 35h4M8 35h1M69 35h1M60 36h1M61 38h1M62 39h1M69 39h1M28 40h1M64 40h1M29 41h1M13 42h1M29 42h1M28 44h1M73 44h1M76 45h1M17 46h1M78 46h1M19 47h1M27 47h1M21 48h1M22 49h1M28 49h1M81 49h1M29 50h1M24 51h1M30 51h1M72 51h1M26 52h1M85 52h1M166 52h1M170 52h4M168 53h1M87 57h1"/>
<path stroke="#aaaaaa" d="M90 4h2M55 14h1M54 20h1M60 21h2M65 22h1M56 23h1M67 23h1M69 24h1M57 25h1M69 27h1M69 28h1M0 29h4M14 29h1M57 29h1M69 29h1M9 36h1M69 36h1M10 37h1M22 37h1M69 37h1M11 38h1M23 38h1M69 38h1M24 39h1M12 40h1M26 40h2M28 41h1M169 42h1M14 43h1M167 44h1M16 45h1M27 46h1M166 46h1M27 48h1M72 48h1M72 49h1M72 50h1M82 51h1M27 52h1M30 52h1M83 52h2M73 53h1M86 53h1M147 54h1M146 56h1M149 56h1M76 58h1M86 58h1M76 59h1M86 59h1M76 60h1M86 60h1M76 61h1M86 61h1"/>
<path stroke="#adadad" d="M58 18h1M59 20h1M64 22h1M57 26h1M8 28h1M9 30h1M13 30h1M18 30h1M11 31h1M68 32h1M7 33h2M68 33h1M5 34h1M9 34h1M59 34h1M9 35h1M21 36h1M12 39h1M25 40h1M65 40h1M13 41h1M28 42h1M28 43h1M15 44h1M27 45h1M75 45h1M18 46h1M20 47h1M79 47h1M166 47h1M80 48h1M23 49h1M28 50h1M81 50h1M29 51h1M28 52h2M148 54h1M74 55h1M146 57h1M149 57h1M146 58h1M149 58h1M146 59h1M149 59h1M146 60h1M149 60h1M146 61h1M149 61h1"/>
<path stroke="#b0b0b0" d="M90 0h2M90 1h2M90 2h2M90 3h2M57 16h1M55 21h1M61 22h3M57 24h1M68 24h1M58 25h1M57 27h1M5 28h1M57 28h1M15 29h2M58 30h1M12 31h1M68 31h1M19 34h1M68 34h1M20 35h1M10 36h1M11 37h1M61 37h1M22 38h1M23 39h1M68 40h1M27 41h1M170 42h4M72 45h1M77 46h1M72 47h1M22 48h1M27 49h1M24 50h1M25 51h1M27 51h2M82 52h1M169 52h1M87 55h1M75 56h1M87 56h1M76 57h1M86 57h1M85 58h1M85 59h1M85 60h1M85 61h1"/>
<path stroke="#b3b3b3" d="M54 15h1M58 19h1M59 21h1M56 22h1M60 22h1M66 23h1M59 25h1M58 26h2M7 28h1M4 29h1M8 29h1M68 30h1M10 31h1M18 31h1M59 32h1M6 33h1M9 33h1M59 33h1M4 34h1M10 34h1M10 35h1M60 35h1M68 35h1M21 37h1M12 38h1M24 40h1M66 40h1M14 42h1M27 42h1M168 43h1M27 44h1M17 45h1M74 45h1M167 45h1M19 46h1M72 46h1M21 47h1M80 49h1M27 50h1M26 51h1M81 51h1M166 51h1M73 52h1M147 55h2"/>
<path stroke="#b6b6b6" d="M54 19h1M58 24h1M60 25h1M68 25h1M60 26h1M58 27h1M6 28h1M14 30h1M13 31h1M11 32h1M18 32h1M10 33h1M18 33h1M0 34h4M11 36h1M21 38h1M62 38h1M63 39h1M13 40h1M67 40h1M26 41h1M27 43h1M73 45h1M76 46h1M23 48h1M166 48h1M24 49h1M170 51h4M83 53h1M85 53h1M74 54h1M77 58h1M77 59h1M77 60h1M77 61h1"/>
<path stroke="#b9b9b9" d="M56 15h1M57 17h1M58 20h1M59 22h1M57 23h1M60 23h2M65 23h1M59 24h2M67 24h1M68 26h1M59 27h1M58 29h1M68 29h1M0 30h4M8 30h1M17 30h1M9 31h1M59 31h1M8 32h3M12 32h1M67 32h1M11 33h1M67 33h1M11 34h1M11 35h1M20 36h1M68 36h1M22 39h1M14 41h1M15 43h1M16 44h1M26 47h1M26 48h1M26 49h1M25 50h2M73 51h1M167 52h1M82 53h1M84 53h1M86 54h1M85 57h1M84 58h1M84 59h1M84 60h1M84 61h1"/>
<path stroke="#bcbcbc" d="M54 16h1M54 17h1M54 18h1M59 23h1M62 23h1M61 24h1M61 25h1M61 26h1M60 27h2M58 28h1M8 31h1M67 31h1M7 32h1M5 33h1M18 34h1M67 34h1M19 35h1M61 36h1M12 37h1M20 37h1M13 39h1M68 39h1M23 40h1M25 41h1M18 45h1M20 46h1M167 46h1M22 47h1M78 47h1M24 48h1M79 48h1M25 49h1M80 50h1M166 50h1M81 52h1M168 52h1M147 56h2"/>
<path stroke="#bfbfbf" d="M55 15h1M57 18h1M58 23h1M63 23h2M68 27h1M68 28h1M5 29h1M7 29h1M4 30h1M15 30h2M67 30h1M14 31h1M68 37h1M20 38h1M68 38h1M21 39h1M26 42h1M168 44h1M26 46h1M73 46h1M75 46h1M25 48h1M166 49h1M73 50h1M74 53h1M75 55h1M76 56h1M86 56h1M77 57h1M84 57h1"/>
<path stroke="#c2c2c2" d="M56 21h1M58 21h1M57 22h1M66 24h1M67 25h1M62 27h1M59 28h1M59 30h1M17 31h1M6 32h1M13 32h1M4 33h1M12 33h1M60 34h1M67 35h1M19 36h1M62 37h1M13 38h1M64 39h1M14 40h1M22 40h1M24 41h1M15 42h1M17 44h1M21 46h1M74 46h1M23 47h1M73 47h1M73 48h1M73 49h1M80 51h1M169 51h1M81 53h1M82 54h2M86 55h1M147 57h2M78 58h1M83 58h1M78 59h1M83 59h1M78 60h1M83 60h1M78 61h1M83 61h1"/>
<path stroke="#c5c5c5" d="M57 19h1M55 20h1M58 22h1M62 24h1M62 26h1M60 28h2M6 29h1M59 29h1M7 30h1M7 31h1M17 32h1M0 33h4M18 35h1M12 36h1M19 37h1M20 39h1M16 43h1M26 43h1M169 43h1M26 44h1M19 45h1M26 45h1M168 45h1M25 47h1M79 49h1M84 54h2M83 57h1M147 58h2M147 59h2M147 60h2M147 61h2"/>
<path stroke="#c8c8c8" d="M56 16h1M57 21h1M62 25h1M67 29h1M66 30h1M0 31h4M15 31h2M66 31h1M5 32h1M60 32h1M66 32h1M17 33h1M60 33h1M66 33h1M12 34h1M61 35h1M63 38h1M65 39h1M67 39h1M25 42h1M24 47h1M77 47h1M167 47h1M170 50h4M74 52h1M85 56h1M78 57h1M82 58h1M82 59h1M82 60h1M82 61h1"/>
<path stroke="#cbcbcb" d="M55 16h1M57 20h1M65 24h1M67 26h1M62 28h1M5 30h1M4 31h1M60 31h1M0 32h5M14 32h1M17 34h1M66 34h1M12 35h1M67 36h1M19 38h1M14 39h1M66 39h1M21 40h1M15 41h1M23 41h1M22 46h1M168 46h1M78 48h1M79 50h1M167 51h1M80 52h1M75 54h1M81 54h1M82 55h2M83 56h2M82 57h1M79 58h1M81 58h1M79 59h1M81 59h1M79 60h1M81 60h1M79 61h1M81 61h1"/>
<path stroke="#cecece" d="M63 24h1M63 27h1M63 28h1M60 29h1M66 29h1M6 30h1M5 31h2M16 32h1M13 33h1M17 35h1M18 36h1M13 37h1M170 43h4M18 44h1M20 45h1M25 46h1M74 47h1M76 47h1M170 48h4M170 49h4M74 51h1M84 55h2M77 56h1M82 56h1M79 57h1M81 57h1M80 58h1M80 59h1M80 60h1M80 61h1"/>
<path stroke="#d1d1d1" d="M55 17h2M55 19h1M56 20h1M64 24h1M66 25h1M63 26h1M67 27h1M67 28h1M60 30h1M15 32h1M66 35h1M62 36h1M19 39h1M15 40h1M20 40h1M22 41h1M16 42h1M17 43h1M23 46h1M75 47h1M170 47h4M169 50h1M168 51h1M80 53h1M76 55h1M81 55h1M81 56h1M80 57h1"/>
<path stroke="#d4d4d4" d="M55 18h2M63 25h1M64 28h1M61 29h1M65 29h1M65 30h1M65 31h1M65 32h1M16 33h1M65 33h1M61 34h1M18 37h1M67 37h1M14 38h1M67 38h1M24 42h1M25 43h1M21 45h1M24 46h1M169 47h1M74 48h1M167 48h1M78 49h1M74 50h1M79 51h1"/>
<path stroke="#d8d8d8" d="M56 19h1M64 27h1M65 28h2M62 29h1M64 29h1M61 32h1M14 33h1M61 33h1M16 34h1M65 34h1M17 36h1M63 37h1M64 38h1M25 44h1M169 44h1M25 45h1M169 45h1M169 46h1M168 47h1M77 48h1M169 48h1M74 49h1M169 49h1M75 53h1M80 54h1M78 56h1M80 56h1"/>
<path stroke="#dbdbdb" d="M65 25h1M66 26h1M66 27h1M63 29h1M61 30h1M64 30h1M61 31h1M64 31h1M64 32h1M15 33h1M64 33h1M13 34h1M16 35h1M62 35h1M13 36h1M18 38h1M15 39h1M16 41h1M21 41h1M23 42h1M19 44h1M22 45h1M170 46h4M78 50h1M167 50h1M80 55h1M79 56h1"/>
<path stroke="#dedede" d="M64 25h1M64 26h1M65 27h1M63 32h1M62 33h2M62 34h1M16 36h1M66 36h1M14 37h1M66 38h1M19 40h1M18 43h1M167 49h1M79 52h1"/>
<path stroke="#e1e1e1" d="M65 26h1M62 30h2M62 31h2M62 32h1M15 34h1M64 34h1M13 35h1M65 35h1M17 37h1M65 38h1M16 40h1M17 42h1M22 42h1M24 43h1M170 44h4M23 45h2M170 45h4M75 48h2M168 48h1M77 49h1M168 50h1M75 52h1M76 54h1M77 55h1"/>
<path stroke="#e4e4e4" d="M14 34h1M63 34h1M15 35h1M63 36h1M66 37h1M15 38h1M18 39h1M20 41h1M20 44h1M75 51h1M78 51h1M79 53h1M79 55h1"/>
<path stroke="#e7e7e7" d="M63 35h2M14 36h2M65 36h1M15 37h2M64 37h1M17 38h1M16 39h1M21 42h1M21 44h1M24 44h1M75 49h1M168 49h1M75 50h1M77 50h1M79 54h1M78 55h1"/>
<path stroke="#eaeaea" d="M14 35h1M16 38h1M17 39h1M18 40h1M17 41h1M19 41h1M18 42h1M19 43h1M22 43h2M22 44h2M76 49h1"/>
<path stroke="#ededed" d="M64 36h1M65 37h1M17 40h1M18 41h1M20 42h1M21 43h1M76 50h1M77 51h1M78 52h1M76 53h1"/>
<path stroke="#f0f0f0" d="M19 42h1M20 43h1M76 51h1M76 52h1M77 54h1"/>
<path stroke="#f3f3f3" d="M77 52h1M78 53h1M78 54h1"/>
<path stroke="#f6f6f6" d="M77 53h1"/>
</g></g>
</g>
<g id="strip" filter="url(#soft2)">
<rect x="88.0" y="1968.0" width="2103.0" height="39.5" fill="#4f6a34" fill-opacity="0.21"/>
<path d="M88.0,1968.0H2191M95.0,2007.5H2191" fill="none" stroke="#3a4f9c" stroke-width="4.0" stroke-dasharray="5 8.2"/>
<path d="M88.0,1974.0V2007.5M2191,1972.0V2007.5" fill="none" stroke="#3a4f9c" stroke-width="3.4" stroke-dasharray="4.5 7"/>
<line x1="111.0" y1="1989.5" x2="2186" y2="1981.5" stroke="#6a93b8" stroke-width="4.2" stroke-dasharray="15.5 11"/>
</g>
<g id="hbox" filter="url(#soft2)">
<rect x="1349.0" y="1924" width="169.5" height="114" fill="#ff6414" fill-opacity="0.60"/>
<rect x="1349.0" y="1924" width="169.5" height="114" fill="none" stroke="#7d8794" stroke-width="4.2" stroke-dasharray="27 26"/>
</g>
<rect x="2234" y="1740" width="96" height="693" fill="url(#cbar)" stroke="#3a3a3a" stroke-width="3" filter="url(#soft2)"/>
<g id="topplot">
<g filter="url(#soft2)" stroke="#6a6a6a" fill="none">
<rect x="96.5" y="35.0" width="2054.0" height="745.0" stroke-width="4.4"/>
<path d="M257.3,35.0v17M257.3,780.0v-17M463.8,35.0v17M463.8,780.0v-17M670.3,35.0v17M670.3,780.0v-17M876.8,35.0v17M876.8,780.0v-17M1083.3,35.0v17M1083.3,780.0v-17M1289.8,35.0v17M1289.8,780.0v-17M1496.3,35.0v17M1496.3,780.0v-17M1702.8,35.0v17M1702.8,780.0v-17M1909.3,35.0v17M1909.3,780.0v-17M2115.8,35.0v17M2115.8,780.0v-17M96.5,136.4h18M2150.5,136.4h-18M96.5,245.3h18M2150.5,245.3h-18M96.5,354.2h18M2150.5,354.2h-18M96.5,463.1h18M2150.5,463.1h-18M96.5,572.0h18M2150.5,572.0h-18M96.5,680.9h18M2150.5,680.9h-18" stroke-width="4.5"/>
</g>
<g clip-path="url(#ctop)"><g filter="url(#soft)" fill="none" stroke-linejoin="round" stroke-linecap="butt">
<polyline points="98.7,312.1 115.2,298.2 131.8,298.2 148.3,294.7 164.8,325.9 181.4,360.6 197.9,353.7 214.4,291.2 230.9,218.4 247.5,185.4 264.0,214.9 280.5,312.1 297.1,395.3 313.6,437.0 330.1,440.5 346.7,457.8 363.2,496.0 379.7,530.7 396.2,548.0 412.8,544.5 429.3,506.4 445.8,437.0 462.4,391.9 478.9,372.8 495.4,391.9 511.9,419.6 528.5,468.2 545.0,537.6 561.5,565.4 578.1,620.9 594.6,641.7 611.1,648.6 627.7,667.7 644.2,638.2 660.7,593.1 677.3,516.8 693.8,468.2 710.3,461.3 726.8,478.6 743.4,516.8 759.9,527.2 776.4,482.1 793.0,423.1 809.5,357.2 826.0,331.2 842.6,339.8 859.1,352.0 875.6,378.0 892.1,384.9 908.7,391.9 925.2,390.1 941.7,381.5 958.3,360.6 974.8,325.9 991.3,294.7 1007.9,308.6 1024.4,374.5 1040.9,423.1 1057.4,412.7 1074.0,367.6 1090.5,298.2 1107.0,253.1 1123.6,232.3 1140.1,213.2 1156.6,242.7 1173.2,298.2 1189.7,329.4 1206.2,319.0 1222.7,353.7 1239.3,395.3 1255.8,450.9 1272.3,509.8 1288.9,579.2 1305.4,648.6 1321.9,664.3 1338.5,666.0 1355.0,666.7 1371.5,662.5 1388.0,664.3 1404.6,657.3 1421.1,649.3 1437.6,626.1 1454.2,600.1 1470.7,551.5 1487.2,482.1 1503.8,402.3 1520.3,367.6 1536.8,360.6 1553.3,357.2 1569.9,364.1 1586.4,430.0 1602.9,506.4 1619.5,589.7 1636.0,601.8 1652.5,598.3 1669.1,593.1 1685.6,605.3 1702.1,582.7 1718.6,572.3 1735.2,568.8 1751.7,565.4 1768.2,560.2 1784.8,553.2 1801.3,575.8 1817.8,579.2 1834.4,568.8 1850.9,548.0 1867.4,523.7 1883.9,502.9 1900.5,426.6 1917.0,346.8 1933.5,270.4 1950.1,232.3 1966.6,220.1 1983.1,221.9 1999.7,228.8 2016.2,230.5 2032.7,239.2 2049.2,305.1 2065.8,371.1 2082.3,421.4 2098.8,388.4 2115.4,384.9 2131.9,409.2 2148.4,492.5" stroke="#000" stroke-width="8.4" stroke-dasharray="36 29" stroke-dashoffset="-9" stroke-linejoin="round"/>
<polyline points="82.2,212.1 98.7,558.4 115.2,384.9 131.8,147.3 148.3,273.9 164.8,314.8 181.4,145.5 197.9,374.5 214.4,276.3 230.9,693.7 247.5,242.7 264.0,419.6 280.5,619.1 297.1,357.2 313.6,563.6 330.1,638.2 346.7,511.6 363.2,671.2 379.7,492.5 396.2,555.0 412.8,463.0 429.3,395.3 445.8,272.2 462.4,235.7 478.9,315.5 495.4,223.6 511.9,270.4 528.5,371.1 545.0,506.4 561.5,518.5 578.1,343.3 594.6,450.9 611.1,478.6 627.7,587.9 644.2,419.6 660.7,378.0 677.3,377.3 693.8,319.0 710.3,293.0 726.8,250.3 743.4,339.8 759.9,443.9 776.4,348.5 793.0,409.2 809.5,471.7 826.0,447.4 842.6,444.6 859.1,367.6 875.6,416.2 892.1,676.4 908.7,544.5 925.2,591.4 941.7,735.4 958.3,312.1 974.8,548.0 991.3,593.1 1007.9,640.0 1024.4,395.3 1040.9,360.6 1057.4,319.0 1074.0,286.0 1090.5,346.8 1107.0,345.0 1123.6,374.5 1140.1,261.8 1156.6,317.3 1173.2,305.1 1189.7,320.7 1206.2,464.7 1222.7,461.3 1239.3,480.4 1255.8,426.6 1272.3,456.1 1288.9,561.9 1305.4,527.2 1321.9,570.6 1338.5,636.5 1355.0,634.8 1371.5,515.1 1388.0,463.0 1404.6,572.3 1421.1,577.5 1437.6,528.9 1454.2,674.7 1470.7,496.0 1487.2,437.0 1503.8,402.3 1520.3,322.5 1536.8,315.5 1553.3,381.5 1569.9,306.9 1586.4,367.6 1602.9,412.7 1619.5,513.3 1636.0,499.4 1652.5,527.2 1669.1,548.0 1685.6,598.3 1702.1,565.4 1718.6,502.9 1735.2,445.7 1751.7,506.4 1768.2,551.5 1784.8,499.4 1801.3,466.5 1817.8,452.6 1834.4,565.4 1850.9,537.6 1867.4,492.5 1883.9,478.6 1900.5,329.4 1917.0,454.3 1933.5,291.2 1950.1,228.8 1966.6,242.7 1983.1,232.3 1999.7,315.5 2016.2,315.5 2032.7,343.3 2049.2,412.7 2065.8,312.1 2082.3,617.4 2098.8,343.3 2115.4,478.6 2131.9,593.1 2148.4,629.6 2164.9,645.2" stroke="#6a6aff" stroke-width="4.5"/>
<polyline points="98.7,312.1 115.2,301.7 131.8,298.2 148.3,294.7 164.8,412.7 181.4,329.4 197.9,258.3 214.4,267.0 230.9,242.7 247.5,213.2 264.0,284.3 280.5,378.0 297.1,357.2 313.6,391.9 330.1,437.0 346.7,471.7 363.2,525.5 379.7,516.8 396.2,511.6 412.8,537.6 429.3,485.6 445.8,423.1 462.4,433.5 478.9,435.2 495.4,409.2 511.9,404.0 528.5,468.2 545.0,561.9 561.5,558.4 578.1,586.2 594.6,624.4 611.1,662.5 627.7,659.0 644.2,565.4 660.7,582.7 677.3,520.3 693.8,471.7 710.3,537.6 726.8,496.0 743.4,489.0 759.9,530.7 776.4,402.3 793.0,386.7 809.5,395.3 826.0,371.1 842.6,364.1 859.1,362.4 875.6,381.5 892.1,371.1 908.7,378.0 925.2,393.6 941.7,367.6 958.3,350.2 974.8,294.7 991.3,325.9 1007.9,378.0 1024.4,384.9 1040.9,402.3 1057.4,353.7 1074.0,315.5 1090.5,312.1 1107.0,284.3 1123.6,239.2 1140.1,213.2 1156.6,305.1 1173.2,315.5 1189.7,260.0 1206.2,273.9 1222.7,426.6 1239.3,405.8 1255.8,407.5 1272.3,575.8 1288.9,600.1 1305.4,589.7 1321.9,645.2 1338.5,666.0 1355.0,667.7 1371.5,655.6 1388.0,672.9 1404.6,648.6 1421.1,636.5 1437.6,626.1 1454.2,582.7 1470.7,506.4 1487.2,430.0 1503.8,449.1 1520.3,395.3 1536.8,364.1 1553.3,353.7 1569.9,364.1 1586.4,496.0 1602.9,537.6 1619.5,522.0 1636.0,534.1 1652.5,622.6 1669.1,589.7 1685.6,610.5 1702.1,551.5 1718.6,575.8 1735.2,594.9 1751.7,548.0 1768.2,553.2 1784.8,568.8 1801.3,600.1 1817.8,568.8 1834.4,489.0 1850.9,603.5 1867.4,534.1 1883.9,502.9 1900.5,374.5 1917.0,367.6 1933.5,277.4 1950.1,270.4 1966.6,260.0 1983.1,228.8 1999.7,213.2 2016.2,239.2 2032.7,249.6 2049.2,395.3 2065.8,332.9 2082.3,367.6 2098.8,364.1 2115.4,402.3 2131.9,440.5 2148.4,555.0" stroke="#ff5a5a" stroke-width="4.5"/>
<polyline points="82.2,231.2 98.7,312.1 115.2,352.0 131.8,332.9 148.3,305.1 164.8,334.6 181.4,315.5 197.9,221.9 214.4,267.0 230.9,298.2 247.5,249.6 264.0,284.3 280.5,364.1 297.1,346.8 313.6,395.3 330.1,485.6 346.7,482.1 363.2,534.1 379.7,575.8 396.2,544.5 412.8,523.7 429.3,468.2 445.8,395.3 462.4,409.2 478.9,388.4 495.4,395.3 511.9,437.0 528.5,489.0 545.0,551.5 561.5,541.1 578.1,565.4 594.6,589.7 611.1,607.0 627.7,620.9 644.2,558.4 660.7,551.5 677.3,523.7 693.8,478.6 710.3,541.1 726.8,489.0 743.4,461.3 759.9,489.0 776.4,423.1 793.0,405.8 809.5,388.4 826.0,367.6 842.6,357.2 859.1,346.8 875.6,358.9 892.1,346.8 908.7,360.6 925.2,378.0 941.7,395.3 958.3,353.7 974.8,291.2 991.3,398.8 1007.9,384.9 1024.4,374.5 1040.9,364.1 1057.4,301.7 1074.0,325.9 1090.5,357.2 1107.0,332.9 1123.6,273.9 1140.1,225.3 1156.6,336.4 1173.2,339.8 1189.7,260.0 1206.2,279.1 1222.7,454.3 1239.3,409.2 1255.8,416.2 1272.3,582.7 1288.9,607.0 1305.4,617.4 1321.9,613.9 1338.5,638.2 1355.0,659.0 1371.5,631.3 1388.0,645.2 1404.6,641.7 1421.1,627.8 1437.6,634.8 1454.2,627.8 1470.7,516.8 1487.2,433.5 1503.8,440.5 1520.3,419.6 1536.8,357.2 1553.3,319.0 1569.9,320.7 1586.4,437.0 1602.9,513.3 1619.5,541.1 1636.0,548.0 1652.5,551.5 1669.1,610.5 1685.6,620.9 1702.1,603.5 1718.6,582.7 1735.2,565.4 1751.7,549.8 1768.2,555.0 1784.8,541.1 1801.3,535.9 1817.8,565.4 1834.4,582.7 1850.9,575.8 1867.4,537.6 1883.9,482.1 1900.5,402.3 1917.0,388.4 1933.5,332.9 1950.1,291.2 1966.6,256.6 1983.1,235.7 1999.7,221.9 2016.2,223.6 2032.7,228.8 2049.2,384.9 2065.8,398.8 2082.3,412.7 2098.8,412.7 2115.4,405.8 2131.9,426.6 2148.4,575.8" stroke="#4dff4d" stroke-width="4.5"/>
<polyline points="82.2,287.8 98.7,185.4 115.2,239.2 131.8,312.1 148.3,272.2 164.8,312.1 181.4,228.8 197.9,136.8 214.4,343.3 230.9,360.6 247.5,206.2 264.0,414.4 280.5,398.8 297.1,131.6 313.6,391.9 330.1,345.0 346.7,440.5 363.2,471.7 379.7,465.4 396.2,520.3 412.8,610.5 429.3,610.5 445.8,459.5 462.4,474.5 478.9,447.4 495.4,384.9 511.9,440.5 528.5,516.8 545.0,471.7 561.5,523.7 578.1,522.0 594.6,593.1 611.1,659.0 627.7,610.5 644.2,523.7 660.7,662.5 677.3,555.0 693.8,499.4 710.3,548.0 726.8,558.4 743.4,586.2 759.9,575.8 776.4,367.6 793.0,315.5 809.5,419.6 826.0,480.4 842.6,282.6 859.1,242.7 875.6,273.9 892.1,384.9 908.7,395.3 925.2,417.9 941.7,384.9 958.3,357.2 974.8,502.9 991.3,419.6 1007.9,179.5 1024.4,482.1 1040.9,201.0 1057.4,225.3 1074.0,443.9 1090.5,161.1 1107.0,185.4 1123.6,298.2 1140.1,310.3 1156.6,443.9 1173.2,305.1 1189.7,343.3 1206.2,270.4 1222.7,437.0 1239.3,402.3 1255.8,329.4 1272.3,471.7 1288.9,676.4 1305.4,574.0 1321.9,631.3 1338.5,697.2 1355.0,716.3 1371.5,702.4 1388.0,753.4 1404.6,671.2 1421.1,692.0 1437.6,672.9 1454.2,575.8 1470.7,499.4 1487.2,437.0 1503.8,402.3 1520.3,350.2 1536.8,360.6 1553.3,383.2 1569.9,364.1 1586.4,489.0 1602.9,537.6 1619.5,468.2 1636.0,610.5 1652.5,652.1 1669.1,610.5 1685.6,607.0 1702.1,454.3 1718.6,558.4 1735.2,648.6 1751.7,216.6 1768.2,367.6 1784.8,530.7 1801.3,704.2 1817.8,672.9 1834.4,586.2 1850.9,523.7 1867.4,471.7 1883.9,391.9 1900.5,332.9 1917.0,353.7 1933.5,284.3 1950.1,306.9 1966.6,338.1 1983.1,272.2 1999.7,284.3 2016.2,258.3 2032.7,280.8 2049.2,391.9 2065.8,339.8 2082.3,378.0 2098.8,360.6 2115.4,299.9 2131.9,329.4 2148.4,496.0 2164.9,541.1" stroke="#ff55ff" stroke-width="4.5"/>
<polyline points="82.2,395.3 98.7,395.3 115.2,258.3 131.8,294.7 148.3,320.7 164.8,329.4 181.4,312.1 197.9,216.6 214.4,232.3 230.9,218.4 247.5,287.8 264.0,280.8 280.5,357.2 297.1,299.9 313.6,395.3 330.1,440.5 346.7,471.7 363.2,582.7 379.7,584.4 396.2,551.5 412.8,534.1 429.3,464.7 445.8,391.9 462.4,426.6 478.9,409.2 495.4,430.0 511.9,443.9 528.5,513.3 545.0,534.1 561.5,530.7 578.1,575.8 594.6,603.5 611.1,638.2 627.7,662.5 644.2,551.5 660.7,561.9 677.3,572.3 693.8,457.8 710.3,572.3 726.8,502.9 743.4,492.5 759.9,506.4 776.4,391.9 793.0,395.3 809.5,384.9 826.0,374.5 842.6,364.1 859.1,332.9 875.6,395.3 892.1,378.0 908.7,338.1 925.2,367.6 941.7,409.2 958.3,364.1 974.8,277.4 991.3,416.2 1007.9,378.0 1024.4,343.3 1040.9,409.2 1057.4,360.6 1074.0,312.1 1090.5,325.9 1107.0,312.1 1123.6,294.7 1140.1,235.7 1156.6,305.1 1173.2,319.0 1189.7,242.7 1206.2,263.5 1222.7,416.2 1239.3,402.3 1255.8,412.7 1272.3,568.8 1288.9,589.7 1305.4,577.5 1321.9,620.9 1338.5,645.2 1355.0,666.0 1371.5,645.2 1388.0,669.5 1404.6,607.0 1421.1,626.1 1437.6,636.5 1454.2,659.0 1470.7,537.6 1487.2,450.9 1503.8,423.1 1520.3,409.2 1536.8,364.1 1553.3,367.6 1569.9,357.2 1586.4,454.3 1602.9,482.1 1619.5,492.5 1636.0,551.5 1652.5,633.0 1669.1,596.6 1685.6,603.5 1702.1,589.7 1718.6,610.5 1735.2,568.8 1751.7,511.6 1768.2,541.1 1784.8,530.7 1801.3,537.6 1817.8,565.4 1834.4,572.3 1850.9,551.5 1867.4,530.7 1883.9,502.9 1900.5,378.0 1917.0,374.5 1933.5,315.5 1950.1,273.9 1966.6,242.7 1983.1,209.7 1999.7,221.9 2016.2,220.1 2032.7,220.1 2049.2,378.0 2065.8,374.5 2082.3,365.9 2098.8,395.3 2115.4,378.0 2131.9,402.3 2148.4,520.3" stroke="#33ffff" stroke-width="4.5"/>
<rect x="1563" y="349" width="16" height="16" fill="#c8f4f4" stroke="#2a6f9f" stroke-width="3"/>
</g></g>
<g filter="url(#soft2)">
<text transform="translate(214.50,850.40) scale(0.9033,1)" font-family='"Liberation Sans", Arial, Helvetica, sans-serif' font-size="51.00" fill="#444" stroke="#444" stroke-width="1.3">3.55</text>
<text transform="translate(433.00,850.40) scale(0.9254,1)" font-family='"Liberation Sans", Arial, Helvetica, sans-serif' font-size="51.00" fill="#444" stroke="#444" stroke-width="1.3">3.6</text>
<text transform="translate(627.50,850.40) scale(0.9033,1)" font-family='"Liberation Sans", Arial, Helvetica, sans-serif' font-size="51.00" fill="#444" stroke="#444" stroke-width="1.3">3.65</text>
<text transform="translate(846.00,850.40) scale(0.9254,1)" font-family='"Liberation Sans", Arial, Helvetica, sans-serif' font-size="51.00" fill="#444" stroke="#444" stroke-width="1.3">3.7</text>
<text transform="translate(1040.50,850.40) scale(0.9033,1)" font-family='"Liberation Sans", Arial, Helvetica, sans-serif' font-size="51.00" fill="#444" stroke="#444" stroke-width="1.3">3.75</text>
<text transform="translate(1259.00,850.40) scale(0.9254,1)" font-family='"Liberation Sans", Arial, Helvetica, sans-serif' font-size="51.00" fill="#444" stroke="#444" stroke-width="1.3">3.8</text>
<text transform="translate(1453.50,850.40) scale(0.9033,1)" font-family='"Liberation Sans", Arial, Helvetica, sans-serif' font-size="51.00" fill="#444" stroke="#444" stroke-width="1.3">3.85</text>
<text transform="translate(1672.00,850.40) scale(0.9254,1)" font-family='"Liberation Sans", Arial, Helvetica, sans-serif' font-size="51.00" fill="#444" stroke="#444" stroke-width="1.3">3.9</text>
<text transform="translate(1866.50,850.40) scale(0.9033,1)" font-family='"Liberation Sans", Arial, Helvetica, sans-serif' font-size="51.00" fill="#444" stroke="#444" stroke-width="1.3">3.95</text>
<text transform="translate(2100.50,850.40) scale(0.8567,1)" font-family='"Liberation Sans", Arial, Helvetica, sans-serif' font-size="51.74" fill="#444" stroke="#444" stroke-width="1.3">4</text>
<text transform="translate(2169.20,150.80) scale(0.8813,1)" font-family='"Liberation Serif", "Times New Roman", Times, serif' font-size="55.94" fill="#111" stroke="#111" stroke-width="1.3">1280</text>
<text transform="translate(2166.20,263.70) scale(0.8813,1)" font-family='"Liberation Serif", "Times New Roman", Times, serif' font-size="55.94" fill="#111" stroke="#111" stroke-width="1.3">1270</text>
<text transform="translate(2169.20,372.10) scale(0.8813,1)" font-family='"Liberation Serif", "Times New Roman", Times, serif' font-size="55.94" fill="#111" stroke="#111" stroke-width="1.3">1260</text>
<text transform="translate(2166.20,477.00) scale(0.8813,1)" font-family='"Liberation Serif", "Times New Roman", Times, serif' font-size="55.94" fill="#111" stroke="#111" stroke-width="1.3">1250</text>
<text transform="translate(2169.20,589.90) scale(0.8813,1)" font-family='"Liberation Serif", "Times New Roman", Times, serif' font-size="55.94" fill="#111" stroke="#111" stroke-width="1.3">1240</text>
<text transform="translate(2169.20,700.30) scale(0.8813,1)" font-family='"Liberation Serif", "Times New Roman", Times, serif' font-size="55.94" fill="#111" stroke="#111" stroke-width="1.3">1230</text>
<text transform="translate(74.50,562.80) rotate(-90) scale(0.9169,1)" font-family='"Liberation Serif", "Times New Roman", Times, serif' font-size="57.10" fill="#111" stroke="#111" stroke-width="1.4">Height(meter)</text>
</g>
</g>
<g id="midplot">
<g clip-path="url(#cmid)"><g filter="url(#soft)" fill="none" stroke-linejoin="round">
<polyline points="86.5,1317.5 93.3,1282.4 96.0,1291.9 102.9,1300.1 117.0,1272.8 127.1,1289.2 132.3,1281.6 140.0,1283.6 154.5,1249.0 159.5,1266.3 163.6,1315.0 171.4,1335.9 180.4,1356.3 187.0,1382.9 193.5,1399.8 207.5,1394.4 217.0,1387.6 221.4,1367.1 229.4,1351.3 239.6,1373.1 245.7,1386.4 252.5,1393.1 261.9,1380.1 271.2,1358.0 277.3,1346.2 282.2,1364.3 290.6,1387.8 298.6,1404.4 303.0,1403.9 310.6,1390.4 319.9,1387.9 324.5,1399.2 326.6,1426.8 333.8,1450.3 343.5,1463.6 348.7,1487.2 354.4,1504.7 365.2,1532.4 372.9,1510.1 377.3,1473.9 384.5,1481.5 395.6,1502.6 403.6,1484.2 410.8,1460.5 418.7,1475.9 426.8,1494.3 433.4,1494.8 437.6,1511.8 447.5,1536.3 458.2,1562.0 464.6,1566.2 473.2,1548.5 485.4,1530.3 494.6,1539.6 499.1,1568.2 507.3,1590.5 515.6,1598.8 517.8,1587.6 524.7,1580.0 541.6,1555.1 562.0,1534.2 577.9,1495.6 589.7,1467.3 605.6,1457.8 624.5,1437.7 636.3,1431.5 651.5,1417.9 665.5,1400.8 679.2,1389.6 689.5,1377.8 698.7,1360.9 708.3,1328.6 711.5,1306.5 716.6,1319.5 725.7,1302.1 732.1,1254.3 734.6,1213.2 740.1,1167.6 748.7,1151.0 755.8,1158.3 760.3,1159.0 769.2,1150.1 779.0,1156.3 778.8,1136.0 786.2,1127.2 792.4,1138.8 801.1,1109.9 805.6,1098.6 816.2,1078.4 826.6,1051.2 833.8,1017.6 836.4,997.6 843.0,1015.2 851.2,1032.1 856.9,1039.6 860.2,1068.3 868.1,1097.8 875.3,1124.8 878.1,1158.1 882.7,1178.1 891.2,1195.9 897.0,1213.8 901.4,1214.1 909.4,1215.6 921.5,1226.3 925.7,1243.2 930.6,1279.7 940.0,1312.3 945.7,1330.5 952.5,1350.8 960.4,1362.9 972.4,1370.3 982.4,1391.5 988.6,1404.6 998.0,1417.8 1006.5,1405.7 1011.2,1396.9 1019.6,1411.4 1032.3,1402.7 1045.7,1391.8 1052.8,1400.9 1060.3,1403.4 1072.2,1389.1 1082.5,1398.8 1088.8,1400.7 1094.1,1416.2 1104.5,1425.8 1115.2,1415.5 1123.4,1409.8 1135.7,1398.7 1147.5,1399.4 1154.9,1410.1 1163.9,1419.8 1177.4,1430.2 1190.0,1437.5 1198.4,1430.3 1208.7,1448.0 1222.8,1455.1 1235.8,1452.6 1245.7,1469.2 1261.3,1474.2 1278.9,1470.1 1292.3,1482.3 1304.7,1488.1 1321.6,1497.2 1332.7,1509.6 1335.7,1500.6 1345.6,1507.6 1359.6,1504.8 1371.2,1506.5 1379.3,1506.4 1390.7,1505.4 1408.4,1507.4 1422.2,1504.5 1430.4,1504.6 1444.6,1510.9 1463.3,1505.4 1477.5,1506.4 1492.4,1507.9 1507.5,1502.2 1518.7,1506.9 1526.0,1504.2 1538.3,1492.8 1549.6,1464.6 1559.2,1437.9 1566.7,1405.4 1574.3,1397.8 1585.0,1410.2 1591.2,1421.9 1599.6,1429.6 1610.4,1444.1 1619.9,1463.8 1629.5,1475.3 1637.2,1484.3 1652.5,1489.7 1668.8,1487.3 1682.4,1479.6 1699.9,1482.7 1719.1,1471.8 1729.8,1465.3 1744.0,1475.2 1762.8,1476.8 1783.1,1480.6 1794.8,1475.3 1806.2,1459.3 1819.5,1455.0 1830.0,1464.4 1839.4,1456.9 1850.3,1447.8 1863.4,1430.2 1874.5,1434.6 1884.4,1446.4 1898.7,1453.8 1913.1,1464.4 1927.2,1469.0 1938.1,1469.5 1957.5,1467.7 1974.7,1464.1 1984.1,1459.0 1996.5,1466.6 2016.0,1469.1 2031.7,1463.7 2037.2,1479.5 2051.1,1470.0 2065.8,1466.8 2076.0,1475.0 2090.8,1469.4 2105.8,1470.1 2123.4,1478.2 2137.0,1477.6 2153.1,1483.3 2160.3,1501.8 2161.9,1476.3" stroke="#2a2af0" stroke-width="3.6"/>
<polyline points="87.8,1314.9 90.6,1283.1 95.4,1293.4 105.8,1297.3 116.9,1275.0 124.3,1289.1 133.2,1279.5 142.6,1286.5 153.0,1247.3 157.3,1265.8 165.7,1317.5 173.1,1333.1 177.9,1357.5 186.0,1384.1 196.3,1397.1 207.8,1396.8 214.1,1387.0 221.8,1365.4 232.1,1354.1 238.5,1371.0 243.2,1386.4 254.2,1395.3 263.9,1377.3 268.9,1359.6 275.9,1346.9 284.9,1361.8 291.3,1390.5 295.8,1403.4 303.1,1402.6 313.5,1393.2 319.1,1385.5 321.8,1399.6 328.0,1428.7 336.1,1447.4 341.5,1465.5 346.9,1487.4 356.8,1502.5 366.3,1535.2 370.1,1508.6 376.9,1473.1 387.3,1484.1 395.3,1500.0 400.9,1485.0 411.8,1461.9 421.2,1473.1 425.1,1496.6 431.3,1494.6 439.9,1509.9 449.0,1539.2 455.6,1560.1 463.8,1565.8 476.0,1550.9 485.5,1527.5 491.8,1540.9 499.7,1569.2 510.0,1587.8 514.3,1601.4 515.4,1586.9 526.6,1578.4 543.5,1557.9 559.5,1532.0 576.6,1495.7 592.4,1469.4 606.1,1455.0 621.6,1439.4 636.5,1432.0 654.3,1415.5 664.6,1403.5 676.6,1388.5 691.1,1376.7 700.9,1363.6 706.1,1326.1 709.9,1307.1 719.2,1321.2 726.6,1299.2 729.2,1256.4 734.4,1213.3 743.0,1165.4 748.1,1153.8 753.0,1156.7 761.6,1158.3 771.6,1152.7 777.2,1153.6 776.9,1137.0 788.5,1128.6 793.8,1136.0 798.4,1112.3 805.0,1098.2 819.1,1076.5 826.5,1054.1 831.0,1015.6 837.2,997.4 845.6,1017.5 849.7,1029.2 854.7,1041.0 862.3,1069.2 869.8,1095.2 872.8,1127.4 877.1,1157.2 885.5,1176.6 891.6,1198.7 894.1,1211.6 901.8,1214.3 912.1,1217.6 920.4,1223.4 923.2,1245.0 932.4,1280.1 942.0,1309.9 943.4,1333.3 951.0,1349.5 963.0,1361.9 973.2,1372.9 979.5,1389.0 988.6,1405.3 1000.9,1419.4 1005.8,1402.8 1008.5,1399.1 1021.0,1411.4 1034.6,1400.6 1043.7,1394.6 1051.0,1399.2 1062.7,1402.8 1073.3,1391.6 1079.8,1396.1 1088.4,1401.9 1097.0,1417.4 1104.2,1423.0 1112.4,1417.9 1124.4,1409.2 1138.2,1396.9 1145.9,1402.3 1152.8,1408.1 1166.1,1419.7 1179.0,1432.4 1187.4,1434.7 1197.5,1431.8 1211.5,1448.8 1222.9,1452.5 1232.9,1455.3 1246.3,1468.2 1264.0,1472.9 1277.6,1472.8 1289.9,1480.0 1306.6,1488.4 1323.5,1499.0 1330.3,1506.7 1334.4,1502.6 1348.3,1507.8 1360.2,1502.5 1368.3,1509.3 1379.4,1504.9 1393.5,1504.5 1407.5,1510.0 1419.6,1501.9 1432.0,1505.4 1446.8,1512.4 1461.1,1502.6 1475.8,1508.7 1494.9,1507.6 1508.5,1500.2 1515.9,1509.8 1525.8,1502.4 1541.2,1492.4 1549.1,1467.0 1556.5,1435.2 1567.9,1406.7 1576.7,1398.8 1583.2,1407.5 1589.3,1424.4 1601.9,1428.9 1611.8,1442.5 1617.3,1466.7 1628.8,1473.2 1640.0,1484.4 1652.5,1491.8 1666.0,1484.4 1683.2,1481.3 1702.5,1483.3 1717.6,1469.3 1727.5,1468.1 1746.1,1474.0 1764.5,1475.6 1780.6,1483.4 1793.7,1472.8 1809.0,1459.9 1819.8,1456.7 1827.2,1461.5 1839.8,1459.0 1853.0,1448.0 1862.4,1428.0 1872.0,1437.4 1886.1,1444.8 1900.7,1453.0 1910.9,1467.0 1925.7,1466.3 1940.8,1470.5 1958.3,1469.1 1971.8,1461.3 1984.0,1461.4 1999.4,1466.3 2015.3,1467.2 2029.0,1466.5 2038.5,1477.5 2053.4,1469.7 2063.9,1469.1 2074.2,1472.2 2093.2,1470.8 2107.0,1471.0 2120.7,1475.6 2136.5,1480.2 2156.0,1482.5 2160.0,1500.3 2159.1,1479.1" stroke="#ff40ff" stroke-width="3.6"/>
<polyline points="85.0,1314.8 90.8,1285.3 98.1,1290.7 104.8,1298.8 114.4,1275.8 125.8,1286.6 135.3,1282.1 140.5,1285.6 151.5,1245.9 159.8,1268.5 166.6,1315.2 170.3,1333.5 177.7,1359.3 188.8,1381.3 195.7,1399.0 205.2,1397.1 215.3,1384.7 224.2,1368.2 230.3,1352.8 236.6,1370.1 245.5,1388.9 255.5,1392.8 261.2,1378.1 268.3,1361.1 278.7,1344.1 284.8,1364.0 288.6,1390.3 296.6,1401.4 305.6,1405.4 312.0,1391.5 316.9,1385.0 323.9,1401.9 329.7,1426.0 333.6,1448.6 340.5,1466.6 349.6,1484.8 357.1,1504.9 363.5,1534.6 370.5,1507.0 379.6,1475.8 386.2,1482.0 392.9,1500.0 402.6,1487.1 413.8,1459.1 419.0,1474.8 423.7,1497.2 433.9,1492.1 440.6,1512.5 446.2,1538.1 455.6,1558.9 466.6,1568.5 475.3,1548.5 482.9,1528.0 493.2,1542.6 501.9,1566.4 508.0,1589.8 512.5,1601.5 517.8,1584.7 527.7,1581.2 540.8,1556.4 559.1,1531.3 579.4,1498.2 592.1,1466.8 603.4,1455.9 622.6,1440.7 639.0,1429.3 652.6,1417.8 662.5,1403.2 678.8,1386.6 692.6,1379.5 698.3,1361.8 705.3,1325.8 712.7,1309.3 719.3,1318.5 723.8,1300.6 729.9,1257.3 737.1,1210.7 741.7,1167.9 745.8,1153.0 754.9,1155.2 763.4,1161.1 769.2,1150.5 776.0,1153.8 779.6,1139.0 789.1,1125.8 791.0,1137.8 798.6,1112.7 807.7,1095.8 818.2,1079.2 824.0,1052.8 832.5,1014.5 839.3,1000.0 843.5,1015.1 848.1,1029.9 857.2,1042.6 863.2,1066.4 867.0,1097.2 872.5,1127.4 879.9,1155.1 885.0,1179.4 888.9,1197.1 895.3,1210.9 904.2,1216.7 910.3,1214.9 918.4,1224.5 925.5,1246.3 933.7,1277.4 939.4,1312.3 942.8,1332.8 953.8,1347.7 962.9,1364.7 970.4,1371.0 980.3,1388.8 991.2,1407.5 999.4,1416.6 1003.6,1404.3 1010.5,1399.9 1022.6,1408.8 1032.1,1403.2 1042.7,1393.7 1053.7,1397.8 1063.1,1405.5 1070.5,1389.3 1080.1,1396.4 1091.1,1403.8 1095.9,1414.6 1101.8,1424.9 1114.1,1418.3 1126.4,1406.9 1136.0,1399.6 1144.4,1400.9 1155.4,1407.1 1166.9,1422.3 1176.2,1429.8 1187.4,1435.5 1200.3,1433.4 1210.9,1446.0 1220.3,1454.7 1234.3,1455.1 1248.6,1466.2 1262.1,1475.7 1275.9,1471.1 1292.3,1479.5 1307.7,1490.8 1320.8,1496.3 1329.9,1507.9 1337.2,1503.6 1348.1,1505.2 1357.4,1504.9 1369.3,1508.7 1381.9,1503.3 1391.9,1507.3 1405.5,1507.9 1421.7,1501.8 1433.5,1507.6 1444.2,1509.6 1460.3,1504.2 1478.6,1509.4 1495.1,1505.2 1505.7,1502.9 1516.5,1508.7 1528.4,1501.1 1539.9,1495.1 1546.7,1464.7 1558.3,1435.6 1569.8,1408.5 1574.4,1396.0 1581.9,1409.5 1591.9,1424.6 1602.5,1426.7 1609.0,1445.2 1617.4,1465.2 1631.5,1472.4 1639.2,1486.9 1649.9,1489.3 1667.5,1485.3 1685.3,1482.7 1700.4,1480.5 1716.0,1471.6 1730.0,1467.8 1747.1,1472.2 1761.8,1478.4 1780.3,1481.5 1796.5,1472.5 1808.5,1462.2 1817.1,1454.0 1828.3,1462.8 1842.2,1459.9 1851.3,1445.4 1860.4,1430.5 1874.3,1436.7 1887.5,1443.3 1898.1,1455.8 1910.2,1464.8 1928.5,1466.5 1940.7,1472.5 1955.5,1466.3 1972.6,1463.0 1986.6,1461.9 1998.0,1463.9 2013.1,1469.9 2031.0,1465.4 2040.2,1476.4 2051.0,1472.4 2062.8,1466.7 2076.9,1472.8 2093.6,1472.4 2104.2,1468.2 2121.0,1477.7 2139.2,1480.3 2155.0,1480.4 2157.6,1503.1 2160.8,1477.5" stroke="#40e060" stroke-width="3.2"/>
<polyline points="85.9,1315.6 91.5,1284.1 97.0,1291.5 104.4,1298.9 115.6,1274.8 125.9,1287.8 134.1,1281.5 140.7,1285.2 152.6,1247.0 159.3,1267.4 165.6,1315.6 171.1,1334.1 178.5,1358.1 187.8,1382.2 195.2,1398.9 206.3,1396.3 215.6,1385.9 223.0,1367.4 230.4,1352.6 237.8,1371.1 245.2,1387.8 254.4,1393.3 261.9,1378.5 269.3,1360.0 277.8,1345.2 284.1,1363.7 289.6,1389.6 297.0,1402.6 304.4,1404.4 311.9,1391.5 318.1,1385.9 323.7,1400.7 328.5,1426.7 334.1,1448.9 341.5,1465.6 348.9,1485.9 356.3,1504.4 364.4,1534.1 371.1,1508.1 378.5,1474.8 385.9,1482.2 394.1,1500.7 402.6,1485.9 412.6,1460.0 419.3,1474.8 424.8,1496.3 433.3,1493.3 439.6,1511.9 447.0,1537.8 456.3,1560.0 465.6,1567.4 474.8,1548.9 484.1,1528.5 493.3,1541.5 500.7,1567.4 508.1,1589.6 513.7,1600.7 517.4,1585.9 526.7,1580.4 541.5,1556.3 560.0,1532.2 578.5,1497.0 591.5,1467.4 604.4,1456.3 623.0,1439.6 637.8,1430.4 652.6,1417.4 663.7,1402.6 678.5,1387.8 691.5,1378.5 698.9,1361.9 706.3,1326.7 711.9,1308.1 718.5,1319.3 724.8,1300.7 730.4,1256.3 735.9,1211.9 741.5,1167.4 747.0,1152.6 754.8,1156.3 762.2,1160.0 769.6,1150.7 777.0,1154.4 778.9,1137.8 788.1,1126.7 791.9,1137.8 799.3,1111.9 806.7,1097.0 817.8,1078.5 825.2,1052.6 832.6,1015.6 838.1,998.9 843.7,1015.6 849.3,1030.4 856.7,1041.5 862.2,1067.4 867.8,1097.0 873.3,1126.7 878.9,1156.3 884.4,1178.5 890.0,1197.0 895.6,1211.9 903.0,1215.6 910.4,1215.6 919.6,1224.8 925.2,1245.2 932.6,1278.5 940.0,1311.9 943.7,1332.2 953.0,1348.9 962.2,1363.7 971.5,1371.1 980.7,1389.6 990.0,1406.3 999.3,1417.4 1004.8,1404.4 1010.4,1398.9 1021.5,1410.0 1032.6,1402.6 1043.7,1393.3 1053.0,1398.9 1062.2,1404.4 1071.5,1389.6 1080.7,1397.0 1090.0,1402.6 1095.6,1415.6 1103.0,1424.8 1114.1,1417.4 1125.2,1408.1 1136.3,1398.9 1145.6,1400.7 1154.8,1408.1 1165.9,1421.1 1177.0,1430.4 1188.1,1435.9 1199.3,1432.2 1210.4,1447.0 1221.5,1454.4 1234.4,1454.4 1247.4,1467.4 1262.2,1474.8 1277.0,1471.1 1291.9,1480.4 1306.7,1489.6 1321.5,1497.0 1330.7,1508.1 1336.3,1502.6 1347.4,1506.3 1358.5,1504.4 1369.6,1508.1 1380.7,1504.4 1391.9,1506.3 1406.7,1508.1 1421.5,1502.6 1432.4,1506.4 1444.8,1510.5 1461.3,1504.3 1477.8,1508.4 1494.3,1506.4 1506.7,1502.2 1517.0,1508.4 1527.3,1502.2 1539.7,1494.0 1547.9,1465.1 1558.3,1436.2 1568.6,1407.3 1574.8,1397.0 1583.0,1409.4 1591.3,1423.8 1601.6,1427.9 1609.8,1444.4 1618.1,1465.1 1630.5,1473.3 1638.7,1485.7 1651.1,1489.8 1667.6,1485.7 1684.1,1481.6 1700.6,1481.6 1717.2,1471.3 1729.5,1467.1 1746.0,1473.3 1762.6,1477.5 1781.1,1481.6 1795.6,1473.3 1807.9,1461.0 1818.3,1454.8 1828.6,1463.0 1841.0,1458.9 1851.3,1446.5 1861.6,1430.0 1874.0,1436.2 1886.4,1444.4 1898.7,1454.8 1911.1,1465.1 1927.6,1467.1 1940.0,1471.3 1956.5,1467.1 1973.0,1463.0 1985.4,1461.0 1997.8,1465.1 2014.3,1469.2 2030.8,1465.1 2039.1,1477.5 2051.4,1471.3 2063.8,1467.1 2076.2,1473.3 2092.7,1471.3 2105.1,1469.2 2121.6,1477.5 2138.1,1479.5 2154.6,1481.6 2158.8,1502.2 2160.8,1477.5" stroke="#22e8f0" stroke-width="4.2"/>
</g></g>
<g filter="url(#soft2)">
<rect x="1349.0" y="1435" width="169.5" height="112" fill="#ff9a9a" fill-opacity="0.80"/>
<rect x="1349.0" y="1435" width="169.5" height="112" fill="none" stroke="#8092b4" stroke-width="4.2" stroke-dasharray="27 26"/>
</g>
<clipPath id="cpink"><rect x="1349.0" y="1435" width="169.5" height="112"/></clipPath>
<g clip-path="url(#cpink)" filter="url(#soft)" fill="none" opacity="0.75">
<polyline points="86.5,1317.5 93.3,1282.4 96.0,1291.9 102.9,1300.1 117.0,1272.8 127.1,1289.2 132.3,1281.6 140.0,1283.6 154.5,1249.0 159.5,1266.3 163.6,1315.0 171.4,1335.9 180.4,1356.3 187.0,1382.9 193.5,1399.8 207.5,1394.4 217.0,1387.6 221.4,1367.1 229.4,1351.3 239.6,1373.1 245.7,1386.4 252.5,1393.1 261.9,1380.1 271.2,1358.0 277.3,1346.2 282.2,1364.3 290.6,1387.8 298.6,1404.4 303.0,1403.9 310.6,1390.4 319.9,1387.9 324.5,1399.2 326.6,1426.8 333.8,1450.3 343.5,1463.6 348.7,1487.2 354.4,1504.7 365.2,1532.4 372.9,1510.1 377.3,1473.9 384.5,1481.5 395.6,1502.6 403.6,1484.2 410.8,1460.5 418.7,1475.9 426.8,1494.3 433.4,1494.8 437.6,1511.8 447.5,1536.3 458.2,1562.0 464.6,1566.2 473.2,1548.5 485.4,1530.3 494.6,1539.6 499.1,1568.2 507.3,1590.5 515.6,1598.8 517.8,1587.6 524.7,1580.0 541.6,1555.1 562.0,1534.2 577.9,1495.6 589.7,1467.3 605.6,1457.8 624.5,1437.7 636.3,1431.5 651.5,1417.9 665.5,1400.8 679.2,1389.6 689.5,1377.8 698.7,1360.9 708.3,1328.6 711.5,1306.5 716.6,1319.5 725.7,1302.1 732.1,1254.3 734.6,1213.2 740.1,1167.6 748.7,1151.0 755.8,1158.3 760.3,1159.0 769.2,1150.1 779.0,1156.3 778.8,1136.0 786.2,1127.2 792.4,1138.8 801.1,1109.9 805.6,1098.6 816.2,1078.4 826.6,1051.2 833.8,1017.6 836.4,997.6 843.0,1015.2 851.2,1032.1 856.9,1039.6 860.2,1068.3 868.1,1097.8 875.3,1124.8 878.1,1158.1 882.7,1178.1 891.2,1195.9 897.0,1213.8 901.4,1214.1 909.4,1215.6 921.5,1226.3 925.7,1243.2 930.6,1279.7 940.0,1312.3 945.7,1330.5 952.5,1350.8 960.4,1362.9 972.4,1370.3 982.4,1391.5 988.6,1404.6 998.0,1417.8 1006.5,1405.7 1011.2,1396.9 1019.6,1411.4 1032.3,1402.7 1045.7,1391.8 1052.8,1400.9 1060.3,1403.4 1072.2,1389.1 1082.5,1398.8 1088.8,1400.7 1094.1,1416.2 1104.5,1425.8 1115.2,1415.5 1123.4,1409.8 1135.7,1398.7 1147.5,1399.4 1154.9,1410.1 1163.9,1419.8 1177.4,1430.2 1190.0,1437.5 1198.4,1430.3 1208.7,1448.0 1222.8,1455.1 1235.8,1452.6 1245.7,1469.2 1261.3,1474.2 1278.9,1470.1 1292.3,1482.3 1304.7,1488.1 1321.6,1497.2 1332.7,1509.6 1335.7,1500.6 1345.6,1507.6 1359.6,1504.8 1371.2,1506.5 1379.3,1506.4 1390.7,1505.4 1408.4,1507.4 1422.2,1504.5 1430.4,1504.6 1444.6,1510.9 1463.3,1505.4 1477.5,1506.4 1492.4,1507.9 1507.5,1502.2 1518.7,1506.9 1526.0,1504.2 1538.3,1492.8 1549.6,1464.6 1559.2,1437.9 1566.7,1405.4 1574.3,1397.8 1585.0,1410.2 1591.2,1421.9 1599.6,1429.6 1610.4,1444.1 1619.9,1463.8 1629.5,1475.3 1637.2,1484.3 1652.5,1489.7 1668.8,1487.3 1682.4,1479.6 1699.9,1482.7 1719.1,1471.8 1729.8,1465.3 1744.0,1475.2 1762.8,1476.8 1783.1,1480.6 1794.8,1475.3 1806.2,1459.3 1819.5,1455.0 1830.0,1464.4 1839.4,1456.9 1850.3,1447.8 1863.4,1430.2 1874.5,1434.6 1884.4,1446.4 1898.7,1453.8 1913.1,1464.4 1927.2,1469.0 1938.1,1469.5 1957.5,1467.7 1974.7,1464.1 1984.1,1459.0 1996.5,1466.6 2016.0,1469.1 2031.7,1463.7 2037.2,1479.5 2051.1,1470.0 2065.8,1466.8 2076.0,1475.0 2090.8,1469.4 2105.8,1470.1 2123.4,1478.2 2137.0,1477.6 2153.1,1483.3 2160.3,1501.8 2161.9,1476.3" stroke="#3a3ab0" stroke-width="3.4"/>
<polyline points="85.9,1315.6 91.5,1284.1 97.0,1291.5 104.4,1298.9 115.6,1274.8 125.9,1287.8 134.1,1281.5 140.7,1285.2 152.6,1247.0 159.3,1267.4 165.6,1315.6 171.1,1334.1 178.5,1358.1 187.8,1382.2 195.2,1398.9 206.3,1396.3 215.6,1385.9 223.0,1367.4 230.4,1352.6 237.8,1371.1 245.2,1387.8 254.4,1393.3 261.9,1378.5 269.3,1360.0 277.8,1345.2 284.1,1363.7 289.6,1389.6 297.0,1402.6 304.4,1404.4 311.9,1391.5 318.1,1385.9 323.7,1400.7 328.5,1426.7 334.1,1448.9 341.5,1465.6 348.9,1485.9 356.3,1504.4 364.4,1534.1 371.1,1508.1 378.5,1474.8 385.9,1482.2 394.1,1500.7 402.6,1485.9 412.6,1460.0 419.3,1474.8 424.8,1496.3 433.3,1493.3 439.6,1511.9 447.0,1537.8 456.3,1560.0 465.6,1567.4 474.8,1548.9 484.1,1528.5 493.3,1541.5 500.7,1567.4 508.1,1589.6 513.7,1600.7 517.4,1585.9 526.7,1580.4 541.5,1556.3 560.0,1532.2 578.5,1497.0 591.5,1467.4 604.4,1456.3 623.0,1439.6 637.8,1430.4 652.6,1417.4 663.7,1402.6 678.5,1387.8 691.5,1378.5 698.9,1361.9 706.3,1326.7 711.9,1308.1 718.5,1319.3 724.8,1300.7 730.4,1256.3 735.9,1211.9 741.5,1167.4 747.0,1152.6 754.8,1156.3 762.2,1160.0 769.6,1150.7 777.0,1154.4 778.9,1137.8 788.1,1126.7 791.9,1137.8 799.3,1111.9 806.7,1097.0 817.8,1078.5 825.2,1052.6 832.6,1015.6 838.1,998.9 843.7,1015.6 849.3,1030.4 856.7,1041.5 862.2,1067.4 867.8,1097.0 873.3,1126.7 878.9,1156.3 884.4,1178.5 890.0,1197.0 895.6,1211.9 903.0,1215.6 910.4,1215.6 919.6,1224.8 925.2,1245.2 932.6,1278.5 940.0,1311.9 943.7,1332.2 953.0,1348.9 962.2,1363.7 971.5,1371.1 980.7,1389.6 990.0,1406.3 999.3,1417.4 1004.8,1404.4 1010.4,1398.9 1021.5,1410.0 1032.6,1402.6 1043.7,1393.3 1053.0,1398.9 1062.2,1404.4 1071.5,1389.6 1080.7,1397.0 1090.0,1402.6 1095.6,1415.6 1103.0,1424.8 1114.1,1417.4 1125.2,1408.1 1136.3,1398.9 1145.6,1400.7 1154.8,1408.1 1165.9,1421.1 1177.0,1430.4 1188.1,1435.9 1199.3,1432.2 1210.4,1447.0 1221.5,1454.4 1234.4,1454.4 1247.4,1467.4 1262.2,1474.8 1277.0,1471.1 1291.9,1480.4 1306.7,1489.6 1321.5,1497.0 1330.7,1508.1 1336.3,1502.6 1347.4,1506.3 1358.5,1504.4 1369.6,1508.1 1380.7,1504.4 1391.9,1506.3 1406.7,1508.1 1421.5,1502.6 1432.4,1506.4 1444.8,1510.5 1461.3,1504.3 1477.8,1508.4 1494.3,1506.4 1506.7,1502.2 1517.0,1508.4 1527.3,1502.2 1539.7,1494.0 1547.9,1465.1 1558.3,1436.2 1568.6,1407.3 1574.8,1397.0 1583.0,1409.4 1591.3,1423.8 1601.6,1427.9 1609.8,1444.4 1618.1,1465.1 1630.5,1473.3 1638.7,1485.7 1651.1,1489.8 1667.6,1485.7 1684.1,1481.6 1700.6,1481.6 1717.2,1471.3 1729.5,1467.1 1746.0,1473.3 1762.6,1477.5 1781.1,1481.6 1795.6,1473.3 1807.9,1461.0 1818.3,1454.8 1828.6,1463.0 1841.0,1458.9 1851.3,1446.5 1861.6,1430.0 1874.0,1436.2 1886.4,1444.4 1898.7,1454.8 1911.1,1465.1 1927.6,1467.1 1940.0,1471.3 1956.5,1467.1 1973.0,1463.0 1985.4,1461.0 1997.8,1465.1 2014.3,1469.2 2030.8,1465.1 2039.1,1477.5 2051.4,1471.3 2063.8,1467.1 2076.2,1473.3 2092.7,1471.3 2105.1,1469.2 2121.6,1477.5 2138.1,1479.5 2154.6,1481.6 2158.8,1502.2 2160.8,1477.5" stroke="#5f8f9f" stroke-width="3.6"/>
</g>
<g filter="url(#soft2)" stroke="#6a6a6a" fill="none">
<rect x="88.0" y="868.0" width="2087.0" height="758.0" stroke-width="4.4"/>
<path d="M246.8,868.0v17M246.8,1626.0v-17M427.6,868.0v17M427.6,1626.0v-17M608.5,868.0v17M608.5,1626.0v-17M789.3,868.0v17M789.3,1626.0v-17M970.2,868.0v17M970.2,1626.0v-17M1151.0,868.0v17M1151.0,1626.0v-17M1331.9,868.0v17M1331.9,1626.0v-17M1512.8,868.0v17M1512.8,1626.0v-17M1693.6,868.0v17M1693.6,1626.0v-17M1874.4,868.0v17M1874.4,1626.0v-17M2055.3,868.0v17M2055.3,1626.0v-17M88.0,997.3h18M2175.0,997.3h-18M88.0,1142.6h18M2175.0,1142.6h-18M88.0,1287.9h18M2175.0,1287.9h-18M88.0,1433.2h18M2175.0,1433.2h-18M88.0,1578.5h18M2175.0,1578.5h-18" stroke-width="4.5"/>
</g>
<g filter="url(#soft2)">
<text transform="translate(210.75,1695.90) scale(0.9878,1)" font-family='"Liberation Sans", Arial, Helvetica, sans-serif' font-size="48.14" fill="#444" stroke="#444" stroke-width="1.3">0.5</text>
<text transform="translate(413.35,1695.90) scale(0.8706,1)" font-family='"Liberation Sans", Arial, Helvetica, sans-serif' font-size="48.84" fill="#444" stroke="#444" stroke-width="1.3">1</text>
<text transform="translate(572.45,1695.90) scale(0.9737,1)" font-family='"Liberation Sans", Arial, Helvetica, sans-serif' font-size="48.84" fill="#444" stroke="#444" stroke-width="1.3">1.5</text>
<text transform="translate(775.05,1695.90) scale(0.8833,1)" font-family='"Liberation Sans", Arial, Helvetica, sans-serif' font-size="48.14" fill="#444" stroke="#444" stroke-width="1.3">2</text>
<text transform="translate(934.15,1695.90) scale(0.9878,1)" font-family='"Liberation Sans", Arial, Helvetica, sans-serif' font-size="48.14" fill="#444" stroke="#444" stroke-width="1.3">2.5</text>
<text transform="translate(1136.75,1695.90) scale(0.8833,1)" font-family='"Liberation Sans", Arial, Helvetica, sans-serif' font-size="48.14" fill="#444" stroke="#444" stroke-width="1.3">3</text>
<text transform="translate(1295.85,1695.90) scale(0.9878,1)" font-family='"Liberation Sans", Arial, Helvetica, sans-serif' font-size="48.14" fill="#444" stroke="#444" stroke-width="1.3">3.5</text>
<text transform="translate(1498.45,1695.90) scale(0.8706,1)" font-family='"Liberation Sans", Arial, Helvetica, sans-serif' font-size="48.84" fill="#444" stroke="#444" stroke-width="1.3">4</text>
<text transform="translate(1657.55,1695.90) scale(0.9737,1)" font-family='"Liberation Sans", Arial, Helvetica, sans-serif' font-size="48.84" fill="#444" stroke="#444" stroke-width="1.3">4.5</text>
<text transform="translate(1860.15,1695.90) scale(0.8706,1)" font-family='"Liberation Sans", Arial, Helvetica, sans-serif' font-size="48.84" fill="#444" stroke="#444" stroke-width="1.3">5</text>
<text transform="translate(2019.25,1695.90) scale(0.9737,1)" font-family='"Liberation Sans", Arial, Helvetica, sans-serif' font-size="48.84" fill="#444" stroke="#444" stroke-width="1.3">5.5</text>
<text transform="translate(2204.20,1017.20) scale(0.8992,1)" font-family='"Liberation Serif", "Times New Roman", Times, serif' font-size="55.94" fill="#111" stroke="#111" stroke-width="1.3">3000</text>
<text transform="translate(2201.20,1156.00) scale(0.8992,1)" font-family='"Liberation Serif", "Times New Roman", Times, serif' font-size="55.94" fill="#111" stroke="#111" stroke-width="1.3">2500</text>
<text transform="translate(2198.20,1300.80) scale(0.8992,1)" font-family='"Liberation Serif", "Times New Roman", Times, serif' font-size="55.94" fill="#111" stroke="#111" stroke-width="1.3">2000</text>
<text transform="translate(2203.20,1445.60) scale(0.8992,1)" font-family='"Liberation Serif", "Times New Roman", Times, serif' font-size="55.94" fill="#111" stroke="#111" stroke-width="1.3">1500</text>
<text transform="translate(2201.20,1589.40) scale(0.8992,1)" font-family='"Liberation Serif", "Times New Roman", Times, serif' font-size="55.94" fill="#111" stroke="#111" stroke-width="1.3">1000</text>
<text transform="translate(59.70,1249.50) rotate(-90) scale(0.9129,1)" font-family='"Liberation Serif", "Times New Roman", Times, serif' font-size="57.10" fill="#111" stroke="#111" stroke-width="1.4">Height(meter)</text>
<text transform="translate(2150.20,1711.40) scale(1.0293,1)" font-family='"Liberation Serif", "Times New Roman", Times, serif' font-size="57.78" fill="#111" stroke="#111" stroke-width="1.3">×</text>
<text transform="translate(2200.20,1709.40) scale(0.9663,1)" font-family='"Liberation Serif", "Times New Roman", Times, serif' font-size="54.44" fill="#111" stroke="#111" stroke-width="1.3">10</text>
<text transform="translate(2256.20,1691.40) scale(1.0958,1)" font-family='"Liberation Serif", "Times New Roman", Times, serif' font-size="32.12" fill="#111" stroke="#111" stroke-width="1.3">4</text>
</g>
<g id="connectors" filter="url(#soft2)" fill="none" stroke="#5580cc" stroke-width="3.5">
<line x1="97" y1="780" x2="1349.0" y2="1435" stroke-dasharray="16 10.7"/>
<path d="M1518.5,1436L1776,1157L2011,906L2150,779" stroke-dasharray="16 10.7"/>
<line x1="1407.5" y1="1547" x2="1407.5" y2="1924" stroke-dasharray="16.5 10"/>
<line x1="1464.5" y1="1547" x2="1464.5" y2="1924" stroke-dasharray="16.5 10"/>
<path d="M1407.5,1739.5V1924M1464.5,1739.5V1924" stroke="#5f7db4" stroke-width="4.8" stroke-dasharray="16.5 10" stroke-dashoffset="7"/>
<path d="M64,1289.5H50M37,1296V1964M36,1978.5H48" stroke-dasharray="16.5 10"/>
</g>
<g id="legend" filter="url(#soft2)">
<rect x="1778" y="906" width="359" height="356.5" fill="#fff" stroke="#555" stroke-width="5"/>
<line x1="1789.6" y1="938.4" x2="1932" y2="938.4" stroke="#444" stroke-width="4.2" stroke-dasharray="27 18.5"/>
<line x1="1789.6" y1="998" x2="1930.4" y2="998" stroke="#6a6aff" stroke-width="5.4"/>
<line x1="1789.6" y1="1054" x2="1930.4" y2="1054" stroke="#ff6666" stroke-width="5.4"/>
<line x1="1789.6" y1="1112.6" x2="1930.4" y2="1112.6" stroke="#55ff55" stroke-width="5.4"/>
<line x1="1789.6" y1="1169" x2="1930.4" y2="1169" stroke="#ff55ff" stroke-width="5.4"/>
<line x1="1789.6" y1="1229" x2="1930.4" y2="1229" stroke="#44ffff" stroke-width="5.4"/>
<text transform="translate(1944.70,953.40) scale(0.9665,1)" font-family='"Liberation Sans", Arial, Helvetica, sans-serif' font-size="40.14" fill="#111" stroke="#111" stroke-width="2.0">REF</text>
<text transform="translate(1944.70,1012.70) scale(1.0225,1)" font-family='"Liberation Sans", Arial, Helvetica, sans-serif' font-size="39.57" fill="#111" stroke="#111" stroke-width="2.0">NCC</text>
<text transform="translate(1944.70,1070.40) scale(1.0738,1)" font-family='"Liberation Sans", Arial, Helvetica, sans-serif' font-size="38.21" fill="#111" stroke="#111" stroke-width="2.0">Proposed</text>
<text transform="translate(1944.70,1128.40) scale(0.9948,1)" font-family='"Liberation Sans", Arial, Helvetica, sans-serif' font-size="39.57" fill="#111" stroke="#111" stroke-width="2.0">SGM1</text>
<text transform="translate(1944.70,1187.40) scale(1.0215,1)" font-family='"Liberation Sans", Arial, Helvetica, sans-serif' font-size="39.57" fill="#111" stroke="#111" stroke-width="2.0">SGM2</text>
<text transform="translate(1944.70,1246.80) scale(1.0215,1)" font-family='"Liberation Sans", Arial, Helvetica, sans-serif' font-size="39.57" fill="#111" stroke="#111" stroke-width="2.0">SGM3</text>
</g>
</g>
<g id="bottom" filter="url(#soft2)">
<line x1="72" y1="2453.5" x2="2222" y2="2453.5" stroke="#3f5fa8" stroke-width="3.6"/>
<path d="M2199,2440.5L2226,2453.5L2199,2466.5" fill="none" stroke="#3f5fa8" stroke-width="4"/>
<text transform="translate(1001.20,2522.40) scale(1.0354,1)" font-family='"Liberation Serif", "Times New Roman", Times, serif' font-size="50.65" fill="#111" stroke="#111" stroke-width="1.3">Ground distance (meter)</text>
<text transform="translate(2348.20,1784.90) scale(0.9194,1)" font-family='"Liberation Serif", "Times New Roman", Times, serif' font-size="54.44" fill="#111" stroke="#111" stroke-width="1.3">3000</text>
<text transform="translate(2355.20,2425.40) scale(0.9078,1)" font-family='"Liberation Serif", "Times New Roman", Times, serif' font-size="54.44" fill="#111" stroke="#111" stroke-width="1.3">1150</text>
<text transform="translate(2391.00,2223.60) rotate(-90) scale(0.9297,1)" font-family='"Liberation Serif", "Times New Roman", Times, serif' font-size="56.03" fill="#111" stroke="#111" stroke-width="1.4">Height(meter)</text>
</g>
</svg>
</body></html>
